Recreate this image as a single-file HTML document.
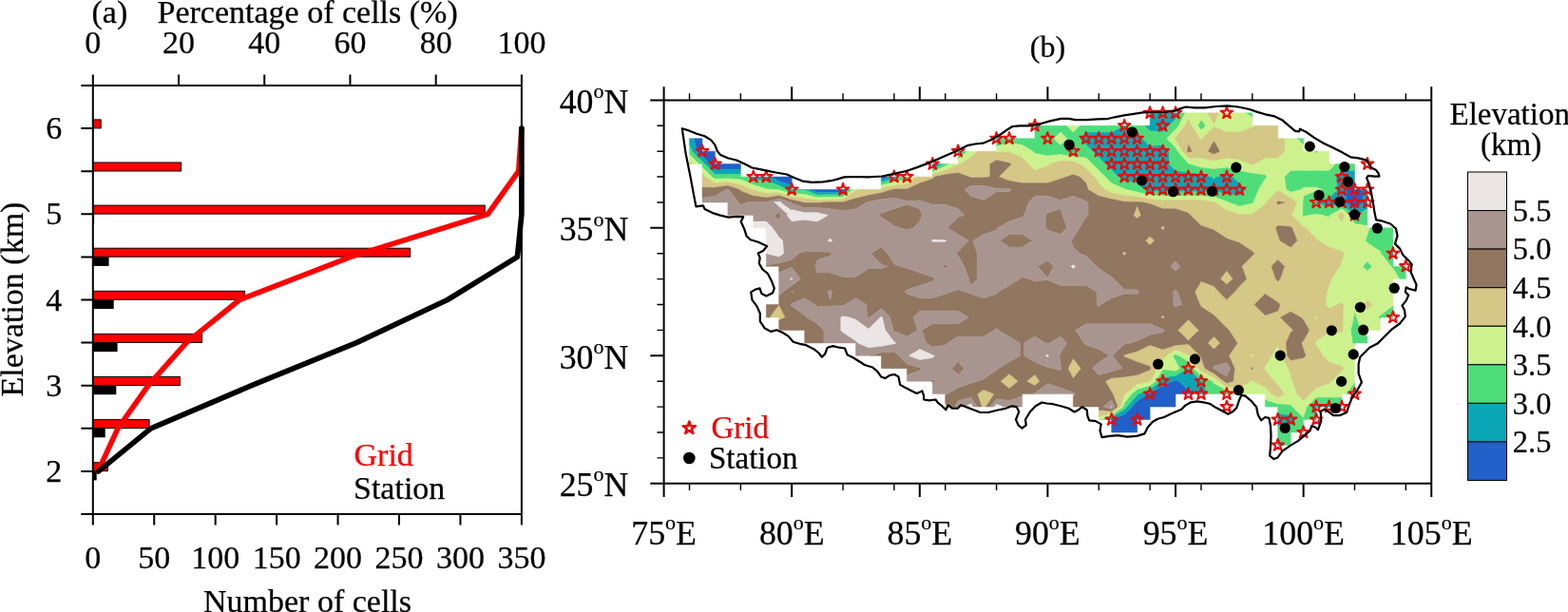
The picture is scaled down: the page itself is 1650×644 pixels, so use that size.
<!DOCTYPE html>
<html lang="en"><head><meta charset="utf-8"><title>Elevation distribution</title>
<style>html,body{margin:0;padding:0;background:#fff;overflow:hidden}svg{display:block}text{stroke-width:0.25px;stroke-linejoin:round}</style></head><body>
<svg width="1650" height="644" viewBox="0 0 1650 644">
<rect width="1650" height="644" fill="#fff"/>
<g id="panel-a">
<rect x="97.80" y="486.70" width="15.47" height="9" fill="#f00" stroke="#000" stroke-width="1"/>
<rect x="97.80" y="441.60" width="59.29" height="9" fill="#f00" stroke="#000" stroke-width="1"/>
<rect x="97.80" y="396.50" width="91.51" height="9" fill="#f00" stroke="#000" stroke-width="1"/>
<rect x="97.80" y="351.40" width="114.71" height="9" fill="#f00" stroke="#000" stroke-width="1"/>
<rect x="97.80" y="306.30" width="159.82" height="9" fill="#f00" stroke="#000" stroke-width="1"/>
<rect x="97.80" y="261.20" width="333.81" height="9" fill="#f00" stroke="#000" stroke-width="1"/>
<rect x="97.80" y="216.10" width="412.43" height="9" fill="#f00" stroke="#000" stroke-width="1"/>
<rect x="97.80" y="171.00" width="92.80" height="9" fill="#f00" stroke="#000" stroke-width="1"/>
<rect x="97.80" y="125.90" width="8.38" height="9" fill="#f00" stroke="#000" stroke-width="1"/>
<rect x="97.80" y="495.90" width="3.87" height="9.5" fill="#000"/>
<rect x="97.80" y="450.80" width="12.89" height="9.5" fill="#000"/>
<rect x="97.80" y="405.70" width="24.49" height="9.5" fill="#000"/>
<rect x="97.80" y="360.60" width="25.78" height="9.5" fill="#000"/>
<rect x="97.80" y="315.50" width="21.91" height="9.5" fill="#000"/>
<rect x="97.80" y="270.40" width="16.76" height="9.5" fill="#000"/>
<rect x="97.80" y="225.30" width="1.29" height="9.5" fill="#000"/>
<polyline points="103.2,495.9 124.0,450.8 156.0,405.7 196.1,360.6 252.1,315.5 368.9,270.4 513.3,225.3 545.7,180.2 548.9,135.1" fill="none" stroke="#f00" stroke-width="5.6" stroke-linejoin="round" stroke-linecap="round"/>
<polyline points="103.7,495.9 158.7,450.8 264.7,405.7 375.2,360.6 470.9,315.5 544.4,270.4 548.9,225.3 548.9,180.2 548.9,135.1" fill="none" stroke="#000" stroke-width="5.6" stroke-linejoin="round" stroke-linecap="round"/>
<path d="M85.30,90.0H548.9M85.30,541.0H548.9M97.8,78.5V552.5M548.9,78.5V552.5M85.30,541.00H97.8M85.30,495.90H97.8M85.30,450.80H97.8M85.30,405.70H97.8M85.30,360.60H97.8M85.30,315.50H97.8M85.30,270.40H97.8M85.30,225.30H97.8M85.30,180.20H97.8M85.30,135.10H97.8M85.30,90.00H97.8M97.80,78.5V90.0M188.02,78.5V90.0M278.24,78.5V90.0M368.46,78.5V90.0M458.68,78.5V90.0M548.90,78.5V90.0M97.80,541.0V552.5M162.24,541.0V552.5M226.69,541.0V552.5M291.13,541.0V552.5M355.57,541.0V552.5M420.01,541.0V552.5M484.46,541.0V552.5M548.90,541.0V552.5" fill="none" stroke="#000" stroke-width="2"/>
<g font-family='"Liberation Serif", serif' font-size="34" fill="#000">
<text transform="translate(97.80,55.50) scale(1.0,1)" stroke="#000" text-anchor="middle">0</text>
<text transform="translate(188.02,55.50) scale(1.0,1)" stroke="#000" text-anchor="middle">20</text>
<text transform="translate(278.24,55.50) scale(1.0,1)" stroke="#000" text-anchor="middle">40</text>
<text transform="translate(368.46,55.50) scale(1.0,1)" stroke="#000" text-anchor="middle">60</text>
<text transform="translate(458.68,55.50) scale(1.0,1)" stroke="#000" text-anchor="middle">80</text>
<text transform="translate(548.90,55.50) scale(1.0,1)" stroke="#000" text-anchor="middle">100</text>
<text transform="translate(97.80,597.50) scale(1.0,1)" stroke="#000" text-anchor="middle">0</text>
<text transform="translate(162.24,597.50) scale(1.0,1)" stroke="#000" text-anchor="middle">50</text>
<text transform="translate(226.69,597.50) scale(1.0,1)" stroke="#000" text-anchor="middle">100</text>
<text transform="translate(291.13,597.50) scale(1.0,1)" stroke="#000" text-anchor="middle">150</text>
<text transform="translate(355.57,597.50) scale(1.0,1)" stroke="#000" text-anchor="middle">200</text>
<text transform="translate(420.01,597.50) scale(1.0,1)" stroke="#000" text-anchor="middle">250</text>
<text transform="translate(484.46,597.50) scale(1.0,1)" stroke="#000" text-anchor="middle">300</text>
<text transform="translate(548.90,597.50) scale(1.0,1)" stroke="#000" text-anchor="middle">350</text>
<text transform="translate(65.20,506.90) scale(1.0,1)" stroke="#000" text-anchor="end">2</text>
<text transform="translate(65.20,416.70) scale(1.0,1)" stroke="#000" text-anchor="end">3</text>
<text transform="translate(65.20,326.50) scale(1.0,1)" stroke="#000" text-anchor="end">4</text>
<text transform="translate(65.20,236.30) scale(1.0,1)" stroke="#000" text-anchor="end">5</text>
<text transform="translate(65.20,146.10) scale(1.0,1)" stroke="#000" text-anchor="end">6</text>
<text transform="translate(96.50,24.00) scale(1.0,1)" stroke="#000">(a)</text>
<text transform="translate(165.50,24.00) scale(1.0,1)" stroke="#000">Percentage of cells (%)</text>
<text transform="translate(323.50,644.30) scale(1.0,1)" stroke="#000" text-anchor="middle">Number of cells</text>
<text transform="translate(24,315) rotate(-90) scale(1.0,1)" text-anchor="middle" stroke="#000">Elevation (km)</text>
<text transform="translate(372.50,489.50) scale(1.0,1)" fill="#f00" stroke="#f00">Grid</text>
<text transform="translate(372.00,524.50) scale(1.0,1)" stroke="#000">Station</text>
</g>
</g>
<g id="panel-b">
<g id="elev-fill">
<path d="M730.0,145.7L739.0,145.7L739.0,159.2L752.4,159.2L752.4,172.6L765.9,172.6L779.4,172.6L779.4,178.0L765.9,178.0L752.4,178.0L747.1,172.6L739.0,164.6L733.6,159.2ZM981.3,172.6L986.7,172.6L981.3,175.4ZM810.8,186.1L819.7,186.1L833.2,186.1L833.2,195.0L819.7,190.7ZM927.4,186.1L936.4,186.1L927.4,189.1ZM1416.5,199.5L1425.5,190.6L1425.5,199.5L1434.5,199.5L1434.5,213.0L1425.5,220.0L1416.5,213.0ZM853.0,199.5L860.1,199.5L873.6,199.5L887.1,199.5L890.5,199.5L887.1,202.2L873.6,202.2L860.1,202.3ZM1233.2,401.2L1237.0,400.2L1240.9,401.2L1250.5,410.8L1254.3,414.6L1250.5,414.6L1237.0,414.6L1237.0,428.1L1223.6,428.1L1210.1,428.1L1210.1,441.5L1196.7,441.5L1196.7,455.0L1183.2,455.0L1169.7,455.0L1169.7,441.5L1168.7,441.5L1169.7,441.1L1183.2,436.1L1191.3,428.1L1196.7,421.7L1208.0,414.6L1210.1,413.8L1223.6,405.7Z" fill="#2160c9" stroke="#2160c9" stroke-width="0.5" stroke-linejoin="round" fill-rule="evenodd"/>
<path d="M1210.1,118.8L1223.6,118.8L1237.0,118.8L1240.4,118.8L1237.0,125.6L1230.3,132.3L1223.6,139.0L1210.1,137.9L1204.5,132.3L1210.1,132.3ZM1089.0,132.3L1095.7,132.3L1089.0,139.0ZM1136.1,145.7L1142.8,139.0L1156.3,139.0L1169.7,139.0L1182.2,132.3L1183.2,132.3L1183.9,132.3L1196.7,140.1L1202.3,145.7L1210.1,153.6L1223.6,152.5L1230.3,159.2L1230.3,172.6L1237.0,179.3L1250.5,181.3L1264.0,182.7L1275.2,186.1L1277.4,188.3L1279.7,186.1L1290.9,182.7L1297.6,186.1L1304.3,192.8L1311.1,199.5L1304.3,206.2L1290.9,203.7L1277.4,202.1L1264.0,201.8L1250.5,201.8L1237.0,201.8L1223.6,201.8L1210.1,201.5L1203.4,199.5L1196.7,192.8L1183.2,190.3L1176.5,186.1L1169.7,179.3L1163.0,172.6L1156.3,165.9L1149.5,159.2L1142.8,152.5ZM725.5,145.7L730.0,145.7L733.6,159.2L739.0,164.6L747.1,172.6L752.4,178.0L765.9,178.0L779.4,178.0L779.4,183.4L765.9,183.4L752.4,183.4L741.7,172.6L739.0,169.9L728.2,159.2L725.5,152.5ZM1048.6,145.7L1055.3,145.7L1048.6,148.5ZM1127.1,159.2L1129.3,156.9L1131.6,159.2L1129.3,159.7ZM1008.2,159.2L1011.6,159.2L1008.2,162.0ZM986.7,172.6L992.0,172.6L981.3,178.1L981.3,175.4ZM1405.3,186.1L1412.0,179.3L1425.5,179.3L1425.5,186.1L1425.5,190.6L1416.5,199.5L1416.5,213.0L1425.5,220.0L1434.5,213.0L1434.5,199.5L1438.9,199.5L1438.9,213.0L1438.9,219.7L1427.7,226.4L1425.5,227.2L1425.0,226.4L1412.0,215.2L1398.6,217.8L1385.1,214.1L1383.8,213.0L1385.1,211.8L1398.6,208.2L1407.2,199.5ZM786.1,186.1L792.8,186.1L806.3,186.1L810.8,186.1L819.7,190.7L833.2,195.0L833.2,199.5L846.7,199.5L853.0,199.5L860.1,202.3L873.6,202.2L887.1,202.2L890.5,199.5L894.0,199.5L887.1,204.8L873.6,204.8L860.1,205.0L846.7,200.0L833.2,201.0L828.4,199.5L819.7,195.3L806.3,190.3L792.8,188.9ZM936.4,186.1L940.9,186.1L947.6,186.1L940.9,187.9L927.4,192.0L927.4,189.1ZM1461.7,266.7L1465.9,260.0L1465.9,266.7L1465.9,271.5ZM1478.0,280.2L1479.3,280.2L1479.3,282.4ZM1464.5,334.0L1465.9,332.8L1465.9,334.0ZM1249.7,387.7L1250.5,387.1L1251.0,387.7L1264.0,400.7L1265.1,401.2L1270.7,414.6L1264.0,414.6L1254.3,414.6L1250.5,410.8L1240.9,401.2L1237.0,400.2L1233.2,401.2L1223.6,405.7L1210.1,413.8L1208.0,414.6L1196.7,421.7L1191.3,428.1L1183.2,436.1L1169.7,441.1L1168.7,441.5L1163.7,441.5L1169.7,439.0L1183.2,430.8L1185.9,428.1L1196.7,415.3L1197.7,414.6L1210.1,409.7L1221.0,401.2L1223.6,397.0L1237.0,395.2ZM1288.6,414.6L1290.9,414.3L1291.7,414.6L1290.9,414.6ZM1424.6,414.6L1425.5,413.5L1425.5,414.6ZM1381.7,428.1L1385.1,424.7L1398.6,424.7L1412.0,424.7L1412.0,428.1L1398.6,428.1L1385.1,428.1L1385.1,441.5L1383.8,441.5ZM1344.7,441.5L1344.7,434.8L1358.2,436.7L1363.0,441.5L1358.2,448.2L1344.7,448.2ZM1369.4,455.0L1371.6,453.6L1371.6,455.0ZM1344.7,468.4L1344.7,461.7L1351.5,468.4Z" fill="#0ba6b5" stroke="#0ba6b5" stroke-width="0.5" stroke-linejoin="round" fill-rule="evenodd"/>
<path d="M1230.3,132.3L1237.0,125.6L1240.4,118.8L1247.1,118.8L1240.4,132.3L1237.0,136.5L1227.8,145.7L1237.0,155.0L1239.5,159.2L1250.5,172.0L1252.7,172.6L1264.0,176.0L1277.4,177.4L1290.9,176.0L1304.3,179.3L1317.8,181.9L1331.3,183.8L1333.5,186.1L1331.3,188.3L1324.5,199.5L1319.1,213.0L1317.8,214.1L1304.3,217.2L1293.1,213.0L1290.9,212.1L1277.4,207.3L1264.0,206.2L1250.5,206.2L1237.0,206.2L1223.6,206.2L1210.1,205.4L1196.7,202.1L1185.4,199.5L1183.2,198.7L1169.7,192.8L1163.0,186.1L1156.3,179.3L1149.5,172.6L1142.8,165.9L1129.3,164.9L1115.9,162.5L1102.4,164.0L1089.0,161.4L1086.7,159.2L1075.5,152.5L1062.0,150.5L1048.6,154.1L1048.6,148.5L1055.3,145.7L1062.0,145.7L1075.5,145.7L1089.0,145.7L1089.0,139.0L1095.7,132.3L1102.4,132.3L1115.9,132.3L1122.6,132.3L1129.3,139.0L1136.1,132.3L1142.8,132.3L1156.3,132.3L1169.7,132.3L1182.2,132.3L1169.7,139.0L1156.3,139.0L1142.8,139.0L1136.1,145.7L1142.8,152.5L1149.5,159.2L1156.3,165.9L1163.0,172.6L1169.7,179.3L1176.5,186.1L1183.2,190.3L1196.7,192.8L1203.4,199.5L1210.1,201.5L1223.6,201.8L1237.0,201.8L1250.5,201.8L1264.0,201.8L1277.4,202.1L1290.9,203.7L1304.3,206.2L1311.1,199.5L1304.3,192.8L1297.6,186.1L1290.9,182.7L1279.7,186.1L1277.4,188.3L1275.2,186.1L1264.0,182.7L1250.5,181.3L1237.0,179.3L1230.3,172.6L1230.3,159.2L1223.6,152.5L1210.1,153.6L1202.3,145.7L1196.7,140.1L1183.9,132.3L1196.7,132.3L1204.5,132.3L1210.1,137.9L1223.6,139.0ZM1115.9,139.0L1109.2,145.7L1115.9,152.5L1122.6,145.7ZM1129.3,156.9L1127.1,159.2L1129.3,159.7L1131.6,159.2ZM1260.6,132.3L1264.0,125.6L1268.8,132.3L1264.0,137.1ZM1311.1,118.8L1317.8,118.8L1317.8,123.6ZM725.5,159.2L725.5,152.5L728.2,159.2L739.0,169.9L741.7,172.6L752.4,183.4L765.9,183.4L779.4,183.4L779.4,186.1L786.1,186.1L792.8,188.9L806.3,190.3L819.7,195.3L828.4,199.5L833.2,201.0L846.7,200.0L860.1,205.0L873.6,204.8L887.1,204.8L894.0,199.5L897.4,199.5L887.1,207.4L873.6,207.4L860.1,207.7L846.7,204.4L833.2,204.1L819.7,199.8L813.0,199.5L806.3,198.7L792.8,194.5L779.4,188.9L765.9,187.9L752.4,188.3L749.1,186.1L739.0,176.0L739.0,172.6L735.6,172.6L725.5,162.5ZM1364.9,145.7L1371.6,145.7L1371.6,152.5ZM1011.6,159.2L1018.3,159.2L1008.2,167.6L1008.2,162.0ZM1382.9,159.2L1385.1,159.2L1387.3,159.2L1385.1,161.4ZM992.0,172.6L994.7,172.6L999.5,172.6L994.7,174.9L981.3,180.9L981.3,178.1ZM1351.5,186.1L1358.2,179.3L1371.6,179.3L1385.1,179.3L1398.6,179.3L1405.3,172.6L1412.0,172.6L1425.5,172.6L1425.5,179.3L1412.0,179.3L1405.3,186.1L1407.2,199.5L1398.6,208.2L1385.1,211.8L1383.8,213.0L1385.1,214.1L1398.6,217.8L1412.0,215.2L1425.0,226.4L1425.5,227.2L1427.7,226.4L1438.9,219.7L1438.9,226.4L1438.9,237.6L1425.5,235.6L1419.8,226.4L1412.0,219.7L1399.4,226.4L1398.6,228.6L1391.8,226.4L1385.1,225.3L1378.4,226.4L1371.6,227.5L1370.5,226.4L1371.0,213.0L1371.6,206.2L1385.1,200.6L1391.8,199.5L1385.1,197.3L1371.6,197.3L1369.4,199.5L1358.2,202.3L1353.4,199.5ZM927.4,195.0L927.4,192.0L940.9,187.9L947.6,186.1L954.4,186.1L957.7,186.1L954.4,188.7L940.9,191.7ZM1436.7,253.3L1438.9,246.6L1441.2,239.8L1452.4,239.8L1465.9,239.8L1465.9,253.3L1465.9,260.0L1461.7,266.7L1465.9,271.5L1465.9,280.2L1478.0,280.2L1479.3,282.4L1479.3,293.6L1472.6,293.6L1465.9,282.4L1463.6,280.2L1453.2,266.7L1452.4,264.5L1438.9,255.5ZM1433.9,280.2L1438.9,275.1L1444.0,280.2L1438.9,285.2ZM1424.4,334.0L1425.5,327.2L1427.7,334.0L1432.2,347.4L1438.9,354.1L1438.9,360.9L1425.5,360.9L1425.5,363.1L1423.2,360.9L1421.3,347.4ZM1450.2,334.0L1452.4,331.7L1465.9,321.6L1465.9,332.8L1464.5,334.0L1452.4,334.0L1452.4,336.2ZM1234.2,374.3L1237.0,372.4L1241.2,374.3L1250.5,380.4L1256.2,387.7L1264.0,395.5L1276.3,401.2L1277.4,403.4L1290.9,410.5L1300.1,414.6L1291.7,414.6L1290.9,414.3L1288.6,414.6L1277.4,414.6L1270.7,414.6L1265.1,401.2L1264.0,400.7L1251.0,387.7L1250.5,387.1L1249.7,387.7L1237.0,395.2L1223.6,397.0L1221.0,401.2L1210.1,409.7L1197.7,414.6L1196.7,415.3L1185.9,428.1L1183.2,430.8L1169.7,439.0L1163.7,441.5L1158.8,441.5L1169.7,436.8L1181.7,428.1L1183.2,423.9L1190.6,414.6L1196.7,409.6L1210.1,405.7L1215.8,401.2L1223.6,388.6L1237.0,390.2L1241.2,387.7L1237.0,380.3ZM1416.2,414.6L1425.5,402.3L1425.5,413.5L1424.6,414.6ZM1331.3,428.1L1331.3,420.6L1344.7,424.7L1358.2,425.8L1360.4,428.1L1371.6,439.3L1375.0,428.1L1385.1,418.0L1398.6,418.0L1412.0,418.0L1412.0,424.7L1398.6,424.7L1385.1,424.7L1381.7,428.1L1383.8,441.5L1371.6,441.5L1371.6,453.6L1369.4,455.0L1358.2,455.0L1358.2,468.4L1351.5,468.4L1344.7,461.7L1344.7,455.0L1344.7,448.2L1358.2,448.2L1363.0,441.5L1358.2,436.7L1344.7,434.8L1344.7,428.1Z" fill="#4fdd7a" stroke="#4fdd7a" stroke-width="0.5" stroke-linejoin="round" fill-rule="evenodd"/>
<path d="M1247.1,118.8L1250.5,118.8L1264.0,118.8L1270.7,118.8L1277.4,130.0L1282.6,118.8L1290.9,118.8L1304.3,118.8L1311.1,118.8L1317.8,123.6L1317.8,132.3L1320.0,132.3L1317.8,134.5L1304.3,139.0L1290.9,139.0L1277.4,133.6L1265.3,145.7L1264.0,148.0L1262.5,145.7L1253.9,132.3L1250.5,125.6L1247.1,132.3L1237.0,144.9L1236.2,145.7L1237.0,146.6L1244.5,159.2L1250.5,166.2L1264.0,165.9L1277.4,169.1L1290.9,165.9L1304.3,167.8L1315.6,172.6L1317.8,173.5L1320.0,172.6L1331.3,165.9L1344.7,165.9L1351.5,159.2L1351.5,145.7L1358.2,145.7L1364.9,145.7L1371.6,152.5L1371.6,159.2L1382.9,159.2L1385.1,161.4L1387.3,159.2L1398.6,159.2L1398.6,172.6L1405.3,172.6L1398.6,179.3L1385.1,179.3L1371.6,179.3L1358.2,179.3L1351.5,186.1L1353.4,199.5L1358.2,202.3L1369.4,199.5L1371.6,197.3L1385.1,197.3L1391.8,199.5L1385.1,200.6L1371.6,206.2L1371.0,213.0L1370.5,226.4L1371.6,227.5L1378.4,226.4L1385.1,225.3L1391.8,226.4L1398.6,228.6L1399.4,226.4L1412.0,219.7L1419.8,226.4L1425.5,235.6L1438.9,237.6L1438.9,239.8L1441.2,239.8L1438.9,246.6L1436.7,253.3L1438.9,255.5L1452.4,264.5L1453.2,266.7L1463.6,280.2L1465.9,282.4L1472.6,293.6L1465.9,293.6L1465.9,307.1L1465.9,320.5L1465.9,321.6L1452.4,331.7L1450.2,334.0L1452.4,336.2L1452.4,347.4L1438.9,347.4L1438.9,354.1L1432.2,347.4L1427.7,334.0L1425.5,327.2L1424.4,334.0L1421.3,347.4L1423.2,360.9L1425.5,363.1L1425.5,374.3L1425.5,387.7L1425.5,401.2L1425.5,402.3L1416.2,414.6L1412.0,414.6L1412.0,418.0L1398.6,418.0L1385.1,418.0L1375.0,428.1L1371.6,439.3L1360.4,428.1L1358.2,425.8L1344.7,424.7L1331.3,420.6L1331.3,414.6L1317.8,414.6L1304.3,414.6L1300.1,414.6L1290.9,410.5L1277.4,403.4L1276.3,401.2L1264.0,395.5L1256.2,387.7L1250.5,380.4L1241.2,374.3L1237.0,372.4L1234.2,374.3L1237.0,380.3L1241.2,387.7L1237.0,390.2L1223.6,388.6L1215.8,401.2L1210.1,405.7L1196.7,409.6L1190.6,414.6L1183.2,423.9L1181.7,428.1L1169.7,436.8L1158.8,441.5L1156.3,441.5L1156.3,438.2L1169.7,434.7L1178.8,428.1L1183.2,415.5L1183.9,414.6L1196.7,404.0L1210.1,401.6L1210.6,401.2L1217.5,387.7L1223.6,379.1L1227.1,374.3L1237.0,367.8L1250.5,373.2L1251.6,374.3L1261.4,387.7L1264.0,390.3L1277.4,397.2L1282.5,401.2L1290.9,406.8L1304.3,407.9L1315.6,401.2L1317.8,400.1L1320.0,401.2L1331.3,407.3L1338.6,414.6L1344.7,418.0L1351.5,414.6L1344.7,405.0L1340.9,401.2L1331.3,390.0L1330.1,387.7L1331.3,385.5L1338.0,374.3L1344.7,363.1L1348.1,374.3L1355.9,387.7L1358.2,394.5L1360.4,401.2L1364.9,414.6L1371.6,421.4L1378.4,414.6L1385.1,407.9L1398.6,403.4L1400.8,401.2L1412.0,390.0L1414.3,387.7L1412.0,385.5L1398.6,381.0L1391.8,374.3L1385.1,363.1L1383.8,360.9L1385.1,358.6L1398.6,349.7L1412.0,349.7L1412.9,347.4L1413.1,334.0L1413.4,320.5L1412.0,318.3L1407.5,320.5L1398.6,324.4L1394.7,320.5L1396.3,307.1L1398.6,300.4L1400.8,293.6L1409.8,280.2L1412.0,273.5L1414.3,266.7L1412.0,264.5L1398.6,260.0L1387.3,253.3L1385.1,251.1L1373.9,239.8L1371.6,238.7L1359.3,226.4L1364.2,213.0L1358.2,207.9L1344.7,200.6L1332.4,213.0L1331.3,215.2L1317.8,225.3L1304.3,225.6L1290.9,221.6L1278.8,213.0L1277.4,212.4L1264.0,210.7L1250.5,210.7L1237.0,210.7L1223.6,210.7L1210.1,209.4L1196.7,207.3L1183.2,205.6L1169.7,202.9L1163.0,199.5L1156.3,192.8L1151.5,186.1L1142.8,177.4L1136.1,172.6L1129.3,170.0L1115.9,169.3L1104.7,172.6L1102.4,174.9L1089.0,179.3L1082.2,172.6L1075.5,165.9L1062.0,160.3L1048.6,160.0L1046.3,159.2L1048.6,159.2L1048.6,154.1L1062.0,150.5L1075.5,152.5L1086.7,159.2L1089.0,161.4L1102.4,164.0L1115.9,162.5L1129.3,164.9L1142.8,165.9L1149.5,172.6L1156.3,179.3L1163.0,186.1L1169.7,192.8L1183.2,198.7L1185.4,199.5L1196.7,202.1L1210.1,205.4L1223.6,206.2L1237.0,206.2L1250.5,206.2L1264.0,206.2L1277.4,207.3L1290.9,212.1L1293.1,213.0L1304.3,217.2L1317.8,214.1L1319.1,213.0L1324.5,199.5L1331.3,188.3L1333.5,186.1L1331.3,183.8L1317.8,181.9L1304.3,179.3L1290.9,176.0L1277.4,177.4L1264.0,176.0L1252.7,172.6L1250.5,172.0L1239.5,159.2L1237.0,155.0L1227.8,145.7L1237.0,136.5L1240.4,132.3ZM1264.0,125.6L1260.6,132.3L1264.0,137.1L1268.8,132.3ZM1412.0,224.2L1407.8,226.4L1412.0,233.1L1414.6,226.4ZM1438.9,275.1L1433.9,280.2L1438.9,285.2L1444.0,280.2ZM1438.9,315.5L1435.6,320.5L1438.9,325.6L1444.0,320.5ZM1109.2,145.7L1115.9,139.0L1122.6,145.7L1115.9,152.5ZM1122.6,132.3L1129.3,132.3L1136.1,132.3L1129.3,139.0ZM725.5,169.3L725.5,162.5L735.6,172.6L728.9,172.6ZM1018.3,159.2L1021.7,159.2L1028.4,159.2L1021.7,165.9L1010.4,172.6L1008.2,173.5L994.7,179.3L981.3,183.6L981.3,180.9L994.7,174.9L999.5,172.6L1008.2,172.6L1008.2,167.6ZM739.0,182.7L739.0,176.0L749.1,186.1L752.4,188.3L765.9,187.9L779.4,188.9L792.8,194.5L806.3,198.7L813.0,199.5L819.7,199.8L833.2,204.1L846.7,204.4L860.1,207.7L873.6,207.4L887.1,207.4L897.4,199.5L900.5,199.5L907.2,199.5L900.5,200.4L887.1,210.1L873.6,210.1L860.1,210.5L846.7,208.9L833.2,207.2L819.7,202.9L806.3,203.5L792.8,200.1L791.5,199.5L779.4,194.5L765.9,191.7L752.4,192.8L742.3,186.1ZM927.4,198.0L927.4,195.0L940.9,191.7L954.4,188.7L957.7,186.1L964.5,186.1L954.4,193.8L940.9,195.4ZM1383.8,334.0L1385.1,331.7L1387.3,334.0L1385.1,336.2ZM1315.6,374.3L1317.8,372.1L1320.0,374.3L1317.8,375.4ZM1303.9,387.7L1304.3,385.5L1305.5,387.7L1304.3,390.0Z" fill="#ccf18d" stroke="#ccf18d" stroke-width="0.5" stroke-linejoin="round" fill-rule="evenodd"/>
<path d="M1247.1,132.3L1250.5,125.6L1253.9,132.3L1262.5,145.7L1264.0,148.0L1265.3,145.7L1277.4,133.6L1290.9,139.0L1304.3,139.0L1317.8,134.5L1320.0,132.3L1331.3,132.3L1344.7,132.3L1344.7,145.7L1351.5,145.7L1351.5,159.2L1344.7,165.9L1331.3,165.9L1320.0,172.6L1317.8,173.5L1315.6,172.6L1304.3,167.8L1290.9,165.9L1277.4,169.1L1264.0,165.9L1250.5,166.2L1244.5,159.2L1237.0,146.6L1236.2,145.7L1237.0,144.9ZM1250.5,152.5L1249.5,159.2L1250.5,160.3L1254.3,159.2ZM1277.4,148.4L1271.4,159.2L1277.4,162.0L1283.4,159.2ZM1270.7,118.8L1277.4,118.8L1282.6,118.8L1277.4,130.0ZM725.5,172.6L725.5,169.3L728.9,172.6ZM1010.4,172.6L1021.7,165.9L1028.4,159.2L1035.1,159.2L1046.3,159.2L1048.6,160.0L1062.0,160.3L1075.5,165.9L1082.2,172.6L1089.0,179.3L1102.4,174.9L1104.7,172.6L1115.9,169.3L1129.3,170.0L1136.1,172.6L1142.8,177.4L1151.5,186.1L1156.3,192.8L1163.0,199.5L1169.7,202.9L1183.2,205.6L1196.7,207.3L1210.1,209.4L1223.6,210.7L1237.0,210.7L1250.5,210.7L1264.0,210.7L1277.4,212.4L1278.8,213.0L1290.9,221.6L1304.3,225.6L1317.8,225.3L1331.3,215.2L1332.4,213.0L1344.7,200.6L1358.2,207.9L1364.2,213.0L1359.3,226.4L1371.6,238.7L1373.9,239.8L1385.1,251.1L1387.3,253.3L1398.6,260.0L1412.0,264.5L1414.3,266.7L1412.0,273.5L1409.8,280.2L1400.8,293.6L1398.6,300.4L1396.3,307.1L1394.7,320.5L1398.6,324.4L1407.5,320.5L1412.0,318.3L1413.4,320.5L1413.1,334.0L1412.9,347.4L1412.0,349.7L1398.6,349.7L1385.1,358.6L1383.8,360.9L1385.1,363.1L1391.8,374.3L1398.6,381.0L1412.0,385.5L1414.3,387.7L1412.0,390.0L1400.8,401.2L1398.6,403.4L1385.1,407.9L1378.4,414.6L1371.6,421.4L1364.9,414.6L1360.4,401.2L1358.2,394.5L1355.9,387.7L1348.1,374.3L1344.7,363.1L1338.0,374.3L1331.3,385.5L1330.1,387.7L1331.3,390.0L1340.9,401.2L1344.7,405.0L1351.5,414.6L1344.7,418.0L1338.6,414.6L1331.3,407.3L1320.0,401.2L1317.8,400.1L1315.6,401.2L1304.3,407.9L1290.9,406.8L1282.5,401.2L1277.4,397.2L1264.0,390.3L1261.4,387.7L1251.6,374.3L1250.5,373.2L1237.0,367.8L1227.1,374.3L1223.6,379.1L1217.5,387.7L1210.6,401.2L1210.1,401.6L1196.7,404.0L1183.9,414.6L1183.2,415.5L1178.8,428.1L1169.7,434.7L1156.3,438.2L1156.3,431.4L1169.7,432.6L1175.9,428.1L1171.1,414.6L1169.7,412.4L1163.0,401.2L1169.7,397.8L1183.2,396.4L1196.7,394.5L1210.1,389.1L1210.8,387.7L1210.1,385.5L1196.7,381.0L1183.2,375.6L1182.1,374.3L1183.2,373.2L1196.7,369.5L1210.1,363.1L1223.6,367.6L1237.0,363.2L1250.5,362.0L1262.8,374.3L1264.0,376.5L1268.2,387.7L1277.4,392.7L1288.1,401.2L1290.9,403.1L1297.6,401.2L1299.2,387.7L1293.1,374.3L1302.1,360.9L1293.1,347.4L1290.9,345.2L1279.7,334.0L1277.4,331.7L1264.0,322.8L1262.6,320.5L1257.2,307.1L1264.0,295.9L1277.4,301.0L1282.6,307.1L1290.9,315.3L1299.2,307.1L1304.3,301.0L1311.7,293.6L1306.6,280.2L1317.8,269.0L1320.0,266.7L1317.8,264.5L1304.3,255.5L1297.6,253.3L1290.9,251.1L1277.4,242.1L1270.7,239.8L1264.0,237.6L1252.7,226.4L1250.5,224.2L1237.0,219.7L1223.6,219.7L1210.1,214.6L1203.4,213.0L1196.7,212.4L1183.2,212.3L1169.7,209.6L1156.3,206.2L1145.1,199.5L1142.8,192.8L1136.1,186.1L1129.3,183.8L1122.6,186.1L1115.9,188.3L1102.4,192.8L1089.0,192.8L1075.5,192.8L1062.0,190.3L1050.8,186.1L1062.0,174.9L1064.3,172.6L1062.0,171.5L1048.6,168.4L1041.9,172.6L1041.9,186.1L1035.1,186.9L1021.7,186.9L1019.4,186.1L1008.2,181.9L994.7,183.8L983.5,186.1L981.3,188.3L967.8,192.8L954.4,199.0L940.9,199.1L938.7,199.5L927.4,202.9L914.0,205.6L900.5,208.8L887.1,212.7L873.6,212.7L866.9,213.0L860.1,213.5L846.7,213.5L845.3,213.0L833.2,210.2L819.7,206.0L806.3,208.0L792.8,206.2L779.4,200.9L778.2,199.5L765.9,195.4L752.4,197.3L739.0,197.3L739.0,186.1L739.0,182.7L742.3,186.1L752.4,192.8L765.9,191.7L779.4,194.5L791.5,199.5L792.8,200.1L806.3,203.5L819.7,202.9L833.2,207.2L846.7,208.9L860.1,210.5L873.6,210.1L887.1,210.1L900.5,200.4L907.2,199.5L914.0,199.5L927.4,199.5L927.4,198.0L940.9,195.4L954.4,193.8L964.5,186.1L967.8,186.1L981.3,186.1L981.3,183.6L994.7,179.3L1008.2,173.5ZM1331.3,309.3L1320.0,320.5L1331.3,331.7L1344.7,327.2L1347.0,320.5L1344.7,318.3ZM1344.7,211.8L1343.6,213.0L1344.7,215.2L1351.5,213.0ZM1385.1,331.7L1383.8,334.0L1385.1,336.2L1387.3,334.0ZM1304.3,385.5L1303.9,387.7L1304.3,390.0L1305.5,387.7ZM1317.8,372.1L1315.6,374.3L1317.8,375.4L1320.0,374.3ZM1344.7,237.6L1342.5,239.8L1344.7,246.6L1347.0,253.3L1358.2,260.0L1364.9,253.3L1359.5,239.8L1358.2,238.5ZM1317.8,386.6L1316.7,387.7L1317.8,388.9L1318.9,387.7ZM1344.7,273.5L1338.0,280.2L1342.5,293.6L1344.7,295.9L1347.0,293.6L1351.5,280.2ZM1358.2,328.0L1347.4,334.0L1358.2,344.7L1360.9,347.4L1358.2,349.7L1353.4,360.9L1354.8,374.3L1358.2,379.1L1371.6,376.5L1373.9,374.3L1371.6,367.6L1369.4,360.9L1371.6,358.2L1377.6,347.4L1371.6,336.7L1368.9,334.0ZM1192.6,226.4L1196.7,216.3L1200.7,226.4L1196.7,230.1ZM1407.8,226.4L1412.0,224.2L1414.6,226.4L1412.0,233.1ZM1221.3,239.8L1223.6,237.6L1225.8,239.8L1223.6,242.1ZM1205.3,253.3L1210.1,248.5L1214.9,253.3L1210.1,258.1ZM1180.9,266.7L1183.2,264.5L1185.4,266.7L1183.2,269.0ZM1284.1,293.6L1290.9,284.7L1297.6,293.6L1290.9,299.4ZM832.4,307.1L833.2,306.5L835.5,307.1L833.2,308.2ZM819.7,320.5L819.7,320.5L819.7,320.5L826.5,334.0L819.7,337.1L819.7,334.0L809.7,334.0L819.7,320.5ZM1435.6,320.5L1438.9,315.5L1444.0,320.5L1438.9,325.6ZM1221.3,334.0L1223.6,331.7L1225.8,334.0L1223.6,335.1ZM1239.3,347.4L1250.5,336.2L1261.7,347.4L1250.5,358.6ZM1270.7,360.9L1277.4,354.1L1284.1,360.9L1277.4,367.6ZM1123.7,387.7L1129.3,377.0L1137.6,387.7L1129.3,398.5ZM1052.6,401.2L1062.0,393.3L1071.5,401.2L1062.0,409.0ZM1080.0,401.2L1089.0,393.9L1094.3,401.2L1089.0,405.9ZM1028.4,414.6L1035.1,409.8L1046.3,414.6L1037.4,428.1L1035.1,428.1L1032.9,428.1ZM994.7,428.1L994.7,423.9L998.1,428.1Z" fill="#d5c785" stroke="#d5c785" stroke-width="0.5" stroke-linejoin="round" fill-rule="evenodd"/>
<path d="M1249.5,159.2L1250.5,152.5L1254.3,159.2L1250.5,160.3ZM1271.4,159.2L1277.4,148.4L1283.4,159.2L1277.4,162.0ZM1041.9,172.6L1048.6,168.4L1062.0,171.5L1064.3,172.6L1062.0,174.9L1050.8,186.1L1062.0,190.3L1075.5,192.8L1089.0,192.8L1102.4,192.8L1115.9,188.3L1122.6,186.1L1129.3,183.8L1136.1,186.1L1142.8,192.8L1145.1,199.5L1156.3,206.2L1169.7,209.6L1183.2,212.3L1196.7,212.4L1203.4,213.0L1210.1,214.6L1223.6,219.7L1237.0,219.7L1250.5,224.2L1252.7,226.4L1264.0,237.6L1270.7,239.8L1277.4,242.1L1290.9,251.1L1297.6,253.3L1304.3,255.5L1317.8,264.5L1320.0,266.7L1317.8,269.0L1306.6,280.2L1311.7,293.6L1304.3,301.0L1299.2,307.1L1290.9,315.3L1282.6,307.1L1277.4,301.0L1264.0,295.9L1257.2,307.1L1262.6,320.5L1264.0,322.8L1277.4,331.7L1279.7,334.0L1290.9,345.2L1293.1,347.4L1302.1,360.9L1293.1,374.3L1299.2,387.7L1297.6,401.2L1290.9,403.1L1288.1,401.2L1277.4,392.7L1268.2,387.7L1264.0,376.5L1262.8,374.3L1250.5,362.0L1237.0,363.2L1223.6,367.6L1210.1,363.1L1196.7,369.5L1183.2,373.2L1182.1,374.3L1183.2,375.6L1196.7,381.0L1210.1,385.5L1210.8,387.7L1210.1,389.1L1196.7,394.5L1183.2,396.4L1169.7,397.8L1163.0,401.2L1169.7,412.4L1171.1,414.6L1175.9,428.1L1169.7,432.6L1156.3,431.4L1156.3,428.1L1142.8,428.1L1129.3,428.1L1129.3,416.9L1131.6,414.6L1129.3,413.1L1115.9,407.9L1102.4,403.4L1089.0,413.8L1082.2,414.6L1075.5,414.6L1075.5,416.9L1062.0,421.4L1048.6,419.7L1041.9,428.1L1037.4,428.1L1046.3,414.6L1035.1,409.8L1028.4,414.6L1032.9,428.1L1028.4,428.1L1021.7,418.0L1008.2,421.4L1004.8,428.1L998.1,428.1L994.7,423.9L994.7,415.5L997.0,414.6L1008.2,407.9L1021.7,403.4L1028.4,401.2L1035.1,398.9L1048.6,389.4L1050.8,387.7L1062.0,381.0L1073.3,374.3L1073.3,360.9L1062.0,354.1L1050.8,347.4L1048.6,345.2L1046.3,347.4L1035.1,354.1L1021.7,354.1L1008.2,354.1L997.0,360.9L994.7,363.1L981.3,365.1L974.5,360.9L970.1,347.4L981.3,340.7L994.7,340.7L1008.2,340.7L1019.4,334.0L1008.2,327.2L994.7,327.2L981.3,327.2L967.8,327.2L961.1,334.0L965.6,347.4L954.4,354.1L940.9,348.5L940.1,347.4L936.7,334.0L927.4,324.7L915.1,334.0L914.0,335.1L912.6,334.0L911.7,320.5L900.5,313.8L889.3,320.5L887.1,321.6L873.6,322.0L860.1,322.8L857.9,320.5L846.7,313.8L833.2,319.4L832.0,320.5L833.2,322.2L846.7,331.7L848.9,334.0L860.1,340.7L866.9,347.4L866.9,360.9L860.1,360.9L846.7,360.9L846.7,347.4L833.2,347.4L819.7,347.4L819.7,337.1L826.5,334.0L819.7,320.5L819.7,320.5L819.7,311.6L824.0,307.1L833.2,300.4L842.5,293.6L833.2,281.3L819.7,286.9L819.7,280.2L806.3,280.2L806.3,279.0L819.7,276.8L833.2,273.5L839.9,266.7L846.7,264.5L860.1,264.5L873.6,265.6L875.8,266.7L873.6,269.0L860.1,273.5L857.9,280.2L860.1,286.9L873.6,286.9L887.1,291.4L900.5,291.4L914.0,282.4L927.4,282.4L934.2,280.2L927.4,277.9L916.2,266.7L927.4,260.0L934.2,266.7L940.9,277.9L947.6,280.2L954.4,282.4L967.8,286.9L981.3,291.4L983.5,293.6L981.3,295.9L967.8,300.4L954.4,304.8L952.1,307.1L954.4,309.3L967.8,313.8L981.3,313.8L994.7,309.3L1001.5,307.1L1008.2,304.8L1014.9,307.1L1021.7,309.3L1035.1,313.8L1048.6,309.3L1050.8,307.1L1062.0,300.4L1073.3,293.6L1075.5,291.4L1082.2,293.6L1089.0,295.9L1102.4,294.6L1115.9,300.4L1129.3,300.4L1142.8,300.4L1154.0,307.1L1154.0,320.5L1156.3,322.8L1158.5,320.5L1169.7,313.8L1183.2,309.3L1196.7,309.3L1198.9,307.1L1196.7,304.8L1183.2,304.8L1172.0,293.6L1169.7,291.4L1156.3,282.4L1154.0,280.2L1142.8,269.0L1136.1,266.7L1129.3,260.0L1127.1,253.3L1129.3,251.1L1136.1,239.8L1142.8,228.6L1145.1,226.4L1145.1,213.0L1142.8,211.6L1129.3,206.2L1115.9,210.7L1102.4,206.2L1089.0,206.2L1082.2,213.0L1077.7,226.4L1075.5,228.6L1062.0,233.1L1049.6,239.8L1048.6,242.1L1035.1,246.6L1023.9,253.3L1028.4,266.7L1028.4,280.2L1028.4,293.6L1021.7,300.4L1019.4,293.6L1014.9,280.2L1008.2,269.0L1006.0,266.7L1008.2,264.5L1019.4,253.3L1008.2,246.6L997.0,239.8L1008.2,228.6L1014.9,226.4L1008.2,219.7L994.7,215.2L981.3,215.2L974.5,213.0L967.8,210.7L954.4,211.6L940.9,208.2L927.4,209.6L914.0,212.3L911.7,213.0L900.5,219.7L887.1,221.6L873.6,219.7L860.1,218.6L846.7,218.6L833.2,213.7L832.2,213.0L819.7,209.1L806.3,212.5L792.8,212.3L786.1,213.0L779.4,215.2L777.1,213.0L767.0,199.5L765.9,199.1L763.7,199.5L752.4,206.2L739.0,208.2L739.0,199.5L739.0,197.3L752.4,197.3L765.9,195.4L778.2,199.5L779.4,200.9L792.8,206.2L806.3,208.0L819.7,206.0L833.2,210.2L845.3,213.0L846.7,213.5L860.1,213.5L866.9,213.0L873.6,212.7L887.1,212.7L900.5,208.8L914.0,205.6L927.4,202.9L938.7,199.5L940.9,199.1L954.4,199.0L967.8,192.8L981.3,188.3L983.5,186.1L994.7,183.8L1008.2,181.9L1019.4,186.1L1021.7,186.9L1035.1,186.9L1041.9,186.1ZM1183.2,264.5L1180.9,266.7L1183.2,269.0L1185.4,266.7ZM1196.7,216.3L1192.6,226.4L1196.7,230.1L1200.7,226.4ZM1210.1,248.5L1205.3,253.3L1210.1,258.1L1214.9,253.3ZM1223.6,237.6L1221.3,239.8L1223.6,242.1L1225.8,239.8ZM1237.0,275.1L1232.0,280.2L1237.0,285.2L1242.1,280.2ZM1250.5,336.2L1239.3,347.4L1250.5,358.6L1261.7,347.4ZM1290.9,284.7L1284.1,293.6L1290.9,299.4L1297.6,293.6ZM1277.4,354.1L1270.7,360.9L1277.4,367.6L1284.1,360.9ZM1169.7,420.7L1160.5,428.1L1169.7,430.4L1172.9,428.1ZM1062.0,393.3L1052.6,401.2L1062.0,409.0L1071.5,401.2ZM833.2,306.5L832.4,307.1L833.2,308.2L835.5,307.1ZM873.6,304.8L871.3,307.1L873.6,315.5L875.8,307.1ZM1089.0,354.1L1077.7,360.9L1077.7,374.3L1089.0,381.0L1102.4,386.6L1109.2,387.7L1115.9,390.0L1116.6,387.7L1115.9,381.0L1114.8,374.3L1115.9,372.1L1122.6,360.9L1115.9,354.1L1104.7,360.9L1102.4,362.0L1100.2,360.9ZM1129.3,377.0L1123.7,387.7L1129.3,398.5L1137.6,387.7ZM1142.8,340.7L1131.6,347.4L1140.6,360.9L1142.8,363.1L1156.3,367.6L1167.5,374.3L1156.3,381.0L1149.5,387.7L1156.3,394.5L1169.7,391.1L1180.9,387.7L1170.9,374.3L1183.2,362.0L1189.9,360.9L1196.7,358.6L1210.1,352.2L1223.6,349.7L1224.9,347.4L1223.6,346.3L1210.1,340.7L1196.7,340.7L1183.2,340.7L1169.7,340.7L1156.3,340.7ZM1021.7,195.3L1014.9,199.5L1021.7,206.2L1035.1,210.7L1048.6,201.8L1062.0,201.8L1064.3,199.5L1062.0,198.7L1048.6,198.2L1035.1,195.3ZM1223.6,331.7L1221.3,334.0L1223.6,335.1L1225.8,334.0ZM1237.0,304.8L1234.8,307.1L1234.8,320.5L1237.0,322.8L1243.8,320.5L1239.3,307.1ZM1277.4,385.5L1276.6,387.7L1277.4,388.2L1290.9,396.0L1294.6,387.7L1290.9,381.4ZM1089.0,393.9L1080.0,401.2L1089.0,405.9L1094.3,401.2ZM1343.6,213.0L1344.7,211.8L1351.5,213.0L1344.7,215.2ZM814.7,226.4L819.7,223.8L821.7,226.4L819.7,231.4ZM925.2,226.4L927.4,224.2L940.9,219.7L954.4,215.2L967.8,219.7L970.1,226.4L967.8,233.1L961.1,239.8L954.4,242.1L947.6,239.8L940.9,237.6L927.4,228.6ZM1100.2,226.4L1102.4,224.2L1115.9,219.7L1118.1,226.4L1122.6,239.8L1115.9,246.6L1102.4,242.1L1100.2,239.8ZM1342.5,239.8L1344.7,237.6L1358.2,238.5L1359.5,239.8L1364.9,253.3L1358.2,260.0L1347.0,253.3L1344.7,246.6ZM1052.4,253.3L1062.0,246.6L1075.5,246.6L1086.7,253.3L1075.5,260.0L1062.0,260.0ZM992.5,280.2L994.7,277.9L997.0,280.2L994.7,282.4ZM1091.7,280.2L1102.4,274.2L1108.4,280.2L1102.4,292.4ZM1338.0,280.2L1344.7,273.5L1351.5,280.2L1347.0,293.6L1344.7,295.9L1342.5,293.6ZM1320.0,320.5L1331.3,309.3L1344.7,318.3L1347.0,320.5L1344.7,327.2L1331.3,331.7ZM806.3,320.5L819.7,320.5L809.7,334.0L806.3,334.0ZM1347.4,334.0L1358.2,328.0L1368.9,334.0L1371.6,336.7L1377.6,347.4L1371.6,358.2L1369.4,360.9L1371.6,367.6L1373.9,374.3L1371.6,376.5L1358.2,379.1L1354.8,374.3L1353.4,360.9L1358.2,349.7L1360.9,347.4L1358.2,344.7ZM916.2,374.3L927.4,370.9L940.9,370.1L945.7,374.3L954.4,382.9L967.8,386.9L970.1,387.7L967.8,390.0L954.4,394.5L954.4,387.7L940.9,387.7L927.4,387.7L927.4,374.3ZM1001.5,387.7L1008.2,381.0L1014.9,387.7L1008.2,394.5ZM1316.7,387.7L1317.8,386.6L1318.9,387.7L1317.8,388.9ZM979.0,401.2L981.3,398.9L983.5,401.2L981.3,403.4L981.3,401.2Z" fill="#917660" stroke="#917660" stroke-width="0.5" stroke-linejoin="round" fill-rule="evenodd"/>
<path d="M763.7,199.5L765.9,199.1L767.0,199.5L777.1,213.0L779.4,215.2L786.1,213.0L792.8,212.3L806.3,212.5L819.7,209.1L832.2,213.0L833.2,213.7L846.7,218.6L860.1,218.6L873.6,219.7L887.1,221.6L900.5,219.7L911.7,213.0L914.0,212.3L927.4,209.6L940.9,208.2L954.4,211.6L967.8,210.7L974.5,213.0L981.3,215.2L994.7,215.2L1008.2,219.7L1014.9,226.4L1008.2,228.6L997.0,239.8L1008.2,246.6L1019.4,253.3L1008.2,264.5L1006.0,266.7L1008.2,269.0L1014.9,280.2L1019.4,293.6L1021.7,300.4L1028.4,293.6L1028.4,280.2L1028.4,266.7L1023.9,253.3L1035.1,246.6L1048.6,242.1L1049.6,239.8L1062.0,233.1L1075.5,228.6L1077.7,226.4L1082.2,213.0L1089.0,206.2L1102.4,206.2L1115.9,210.7L1129.3,206.2L1142.8,211.6L1145.1,213.0L1145.1,226.4L1142.8,228.6L1136.1,239.8L1129.3,251.1L1127.1,253.3L1129.3,260.0L1136.1,266.7L1142.8,269.0L1154.0,280.2L1156.3,282.4L1169.7,291.4L1172.0,293.6L1183.2,304.8L1196.7,304.8L1198.9,307.1L1196.7,309.3L1183.2,309.3L1169.7,313.8L1158.5,320.5L1156.3,322.8L1154.0,320.5L1154.0,307.1L1142.8,300.4L1129.3,300.4L1115.9,300.4L1102.4,294.6L1089.0,295.9L1082.2,293.6L1075.5,291.4L1073.3,293.6L1062.0,300.4L1050.8,307.1L1048.6,309.3L1035.1,313.8L1021.7,309.3L1014.9,307.1L1008.2,304.8L1001.5,307.1L994.7,309.3L981.3,313.8L967.8,313.8L954.4,309.3L952.1,307.1L954.4,304.8L967.8,300.4L981.3,295.9L983.5,293.6L981.3,291.4L967.8,286.9L954.4,282.4L947.6,280.2L940.9,277.9L934.2,266.7L927.4,260.0L916.2,266.7L927.4,277.9L934.2,280.2L927.4,282.4L914.0,282.4L900.5,291.4L887.1,291.4L873.6,286.9L860.1,286.9L857.9,280.2L860.1,273.5L873.6,269.0L875.8,266.7L873.6,265.6L860.1,264.5L846.7,264.5L839.9,266.7L833.2,273.5L819.7,276.8L806.3,279.0L806.3,266.7L806.3,266.7L806.3,266.7L819.7,270.1L824.6,266.7L823.6,253.3L819.7,249.5L813.0,239.8L806.3,233.1L792.8,233.1L792.8,226.4L779.4,226.4L765.9,226.4L765.9,213.0L752.4,213.0L739.0,213.0L739.0,208.2L752.4,206.2ZM819.7,212.2L816.9,213.0L819.7,215.1L822.2,213.0ZM833.2,220.7L828.1,226.4L833.2,232.7L846.7,231.2L860.1,233.1L871.3,226.4L860.1,223.8L846.7,223.8ZM873.6,251.1L871.3,253.3L873.6,254.4L875.8,253.3ZM927.4,224.2L925.2,226.4L927.4,228.6L940.9,237.6L947.6,239.8L954.4,242.1L961.1,239.8L967.8,233.1L970.1,226.4L967.8,219.7L954.4,215.2L940.9,219.7ZM981.3,252.3L980.3,253.3L981.3,254.3L994.7,254.3L995.7,253.3L994.7,252.7ZM1062.0,246.6L1052.4,253.3L1062.0,260.0L1075.5,260.0L1086.7,253.3L1075.5,246.6ZM1102.4,224.2L1100.2,226.4L1100.2,239.8L1102.4,242.1L1115.9,246.6L1122.6,239.8L1118.1,226.4L1115.9,219.7ZM1129.3,278.8L1127.1,280.2L1129.3,282.4L1131.6,280.2ZM819.7,223.8L814.7,226.4L819.7,231.4L821.7,226.4ZM994.7,277.9L992.5,280.2L994.7,282.4L997.0,280.2ZM1102.4,274.2L1091.7,280.2L1102.4,292.4L1108.4,280.2ZM1014.9,199.5L1021.7,195.3L1035.1,195.3L1048.6,198.2L1062.0,198.7L1064.3,199.5L1062.0,201.8L1048.6,201.8L1035.1,210.7L1021.7,206.2ZM1232.0,280.2L1237.0,275.1L1242.1,280.2L1237.0,285.2ZM819.7,293.6L819.7,286.9L833.2,281.3L842.5,293.6L833.2,300.4L824.0,307.1L819.7,311.6L819.7,307.1ZM833.2,292.5L831.0,293.6L833.2,294.2L834.0,293.6ZM871.3,307.1L873.6,304.8L875.8,307.1L873.6,315.5ZM1234.8,307.1L1237.0,304.8L1239.3,307.1L1243.8,320.5L1237.0,322.8L1234.8,320.5ZM832.0,320.5L833.2,319.4L846.7,313.8L857.9,320.5L860.1,322.8L873.6,322.0L887.1,321.6L889.3,320.5L900.5,313.8L911.7,320.5L912.6,334.0L914.0,335.1L915.1,334.0L927.4,324.7L936.7,334.0L940.1,347.4L940.9,348.5L954.4,354.1L965.6,347.4L961.1,334.0L967.8,327.2L981.3,327.2L994.7,327.2L1008.2,327.2L1019.4,334.0L1008.2,340.7L994.7,340.7L981.3,340.7L970.1,347.4L974.5,360.9L981.3,365.1L994.7,363.1L997.0,360.9L1008.2,354.1L1021.7,354.1L1035.1,354.1L1046.3,347.4L1048.6,345.2L1050.8,347.4L1062.0,354.1L1073.3,360.9L1073.3,374.3L1062.0,381.0L1050.8,387.7L1048.6,389.4L1035.1,398.9L1028.4,401.2L1021.7,403.4L1008.2,407.9L997.0,414.6L994.7,415.5L994.7,414.6L981.3,414.6L981.3,403.4L983.5,401.2L981.3,398.9L979.0,401.2L967.8,401.2L954.4,401.2L954.4,394.5L967.8,390.0L970.1,387.7L967.8,386.9L954.4,382.9L945.7,374.3L940.9,370.1L927.4,370.9L916.2,374.3L914.0,374.3L900.5,374.3L900.5,360.9L887.1,360.9L873.6,360.9L866.9,360.9L866.9,347.4L860.1,340.7L848.9,334.0L846.7,331.7L833.2,322.2ZM887.1,332.8L884.8,334.0L884.8,347.4L887.1,349.7L900.5,358.6L902.8,360.9L914.0,365.7L927.4,364.2L940.9,361.7L943.1,360.9L940.9,359.7L931.6,347.4L928.3,334.0L927.4,333.1L926.3,334.0L914.0,346.3L900.5,336.2L893.8,334.0ZM967.8,367.6L956.6,374.3L967.8,378.5L981.3,376.5L983.5,374.3L981.3,373.5ZM1008.2,381.0L1001.5,387.7L1008.2,394.5L1014.9,387.7ZM1131.6,347.4L1142.8,340.7L1156.3,340.7L1169.7,340.7L1183.2,340.7L1196.7,340.7L1210.1,340.7L1223.6,346.3L1224.9,347.4L1223.6,349.7L1210.1,352.2L1196.7,358.6L1189.9,360.9L1183.2,362.0L1170.9,374.3L1180.9,387.7L1169.7,391.1L1156.3,394.5L1149.5,387.7L1156.3,381.0L1167.5,374.3L1156.3,367.6L1142.8,363.1L1140.6,360.9ZM1077.7,360.9L1089.0,354.1L1100.2,360.9L1102.4,362.0L1104.7,360.9L1115.9,354.1L1122.6,360.9L1115.9,372.1L1114.8,374.3L1115.9,381.0L1116.6,387.7L1115.9,390.0L1109.2,387.7L1102.4,386.6L1089.0,381.0L1077.7,374.3ZM1102.4,373.2L1100.2,374.3L1102.4,375.4L1103.5,374.3ZM1276.6,387.7L1277.4,385.5L1290.9,381.4L1294.6,387.7L1290.9,396.0L1277.4,388.2ZM1082.2,414.6L1089.0,413.8L1102.4,403.4L1115.9,407.9L1129.3,413.1L1131.6,414.6L1129.3,416.9L1129.3,414.6L1115.9,414.6L1102.4,414.6L1089.0,414.6ZM1004.8,428.1L1008.2,421.4L1021.7,418.0L1028.4,428.1L1023.9,428.1L1021.7,424.7L1014.9,428.1L1008.2,428.1ZM1041.9,428.1L1048.6,419.7L1062.0,421.4L1075.5,416.9L1075.5,428.1L1062.0,428.1L1055.3,428.1L1048.6,425.3L1046.3,428.1ZM1160.5,428.1L1169.7,420.7L1172.9,428.1L1169.7,430.4ZM1169.7,427.4L1168.9,428.1L1169.7,428.3L1170.0,428.1Z" fill="#a8958f" stroke="#a8958f" stroke-width="0.5" stroke-linejoin="round" fill-rule="evenodd"/>
<path d="M816.9,213.0L819.7,212.2L822.2,213.0L819.7,215.1ZM828.1,226.4L833.2,220.7L846.7,223.8L860.1,223.8L871.3,226.4L860.1,233.1L846.7,231.2L833.2,232.7ZM792.8,239.8L792.8,233.1L806.3,233.1L813.0,239.8L819.7,249.5L823.6,253.3L824.6,266.7L819.7,270.1L806.3,266.7L806.3,266.7L806.3,253.3L806.3,239.8ZM871.3,253.3L873.6,251.1L875.8,253.3L873.6,254.4ZM980.3,253.3L981.3,252.3L994.7,252.7L995.7,253.3L994.7,254.3L981.3,254.3ZM1127.1,280.2L1129.3,278.8L1131.6,280.2L1129.3,282.4ZM831.0,293.6L833.2,292.5L834.0,293.6L833.2,294.2ZM884.8,334.0L887.1,332.8L893.8,334.0L900.5,336.2L914.0,346.3L926.3,334.0L927.4,333.1L928.3,334.0L931.6,347.4L940.9,359.7L943.1,360.9L940.9,361.7L927.4,364.2L914.0,365.7L902.8,360.9L900.5,358.6L887.1,349.7L884.8,347.4ZM956.6,374.3L967.8,367.6L981.3,373.5L983.5,374.3L981.3,376.5L967.8,378.5ZM1100.2,374.3L1102.4,373.2L1103.5,374.3L1102.4,375.4ZM1014.9,428.1L1021.7,424.7L1023.9,428.1L1021.7,428.1ZM1046.3,428.1L1048.6,425.3L1055.3,428.1L1048.6,428.1ZM1168.9,428.1L1169.7,427.4L1170.0,428.1L1169.7,428.3Z" fill="#ebe5e5" stroke="#ebe5e5" stroke-width="0.5" stroke-linejoin="round" fill-rule="evenodd"/>
<polygon points="813.8,212.0 821.3,212.5 837.9,224.9 832.9,227.4 826.2,223.3" fill="#ebe5e5"/>
</g>
<g id="grid-stars">
<polygon points="739.0,152.6 740.5,157.1 745.3,157.1 741.4,160.0 742.9,164.5 739.0,161.7 735.1,164.5 736.6,160.0 732.7,157.1 737.5,157.1" fill="none" stroke="#e80a0a" stroke-width="2.0" stroke-linejoin="round"/>
<polygon points="752.4,166.0 753.9,170.6 758.7,170.6 754.8,173.4 756.3,178.0 752.4,175.1 748.6,178.0 750.0,173.4 746.2,170.6 751.0,170.6" fill="none" stroke="#e80a0a" stroke-width="2.0" stroke-linejoin="round"/>
<polygon points="792.8,179.5 794.3,184.0 799.1,184.0 795.2,186.8 796.7,191.4 792.8,188.6 788.9,191.4 790.4,186.8 786.5,184.0 791.3,184.0" fill="none" stroke="#e80a0a" stroke-width="2.0" stroke-linejoin="round"/>
<polygon points="806.3,179.5 807.8,184.0 812.6,184.0 808.7,186.8 810.2,191.4 806.3,188.6 802.4,191.4 803.9,186.8 800.0,184.0 804.8,184.0" fill="none" stroke="#e80a0a" stroke-width="2.0" stroke-linejoin="round"/>
<polygon points="833.2,192.9 834.7,197.5 839.5,197.5 835.6,200.3 837.1,204.9 833.2,202.0 829.3,204.9 830.8,200.3 826.9,197.5 831.7,197.5" fill="none" stroke="#e80a0a" stroke-width="2.0" stroke-linejoin="round"/>
<polygon points="940.9,179.5 942.4,184.0 947.2,184.0 943.3,186.8 944.8,191.4 940.9,188.6 937.0,191.4 938.5,186.8 934.6,184.0 939.4,184.0" fill="none" stroke="#e80a0a" stroke-width="2.0" stroke-linejoin="round"/>
<polygon points="954.4,179.5 955.8,184.0 960.6,184.0 956.8,186.8 958.2,191.4 954.4,188.6 950.5,191.4 952.0,186.8 948.1,184.0 952.9,184.0" fill="none" stroke="#e80a0a" stroke-width="2.0" stroke-linejoin="round"/>
<polygon points="981.3,166.0 982.8,170.6 987.6,170.6 983.7,173.4 985.2,178.0 981.3,175.1 977.4,178.0 978.9,173.4 975.0,170.6 979.8,170.6" fill="none" stroke="#e80a0a" stroke-width="2.0" stroke-linejoin="round"/>
<polygon points="1008.2,152.6 1009.7,157.1 1014.5,157.1 1010.6,160.0 1012.1,164.5 1008.2,161.7 1004.3,164.5 1005.8,160.0 1001.9,157.1 1006.7,157.1" fill="none" stroke="#e80a0a" stroke-width="2.0" stroke-linejoin="round"/>
<polygon points="1048.6,139.1 1050.1,143.7 1054.9,143.7 1051.0,146.5 1052.5,151.1 1048.6,148.3 1044.7,151.1 1046.2,146.5 1042.3,143.7 1047.1,143.7" fill="none" stroke="#e80a0a" stroke-width="2.0" stroke-linejoin="round"/>
<polygon points="1062.0,139.1 1063.5,143.7 1068.3,143.7 1064.4,146.5 1065.9,151.1 1062.0,148.3 1058.2,151.1 1059.6,146.5 1055.8,143.7 1060.6,143.7" fill="none" stroke="#e80a0a" stroke-width="2.0" stroke-linejoin="round"/>
<polygon points="1089.0,125.7 1090.4,130.3 1095.2,130.3 1091.4,133.1 1092.8,137.6 1089.0,134.8 1085.1,137.6 1086.6,133.1 1082.7,130.3 1087.5,130.3" fill="none" stroke="#e80a0a" stroke-width="2.0" stroke-linejoin="round"/>
<polygon points="1102.4,139.1 1103.9,143.7 1108.7,143.7 1104.8,146.5 1106.3,151.1 1102.4,148.3 1098.5,151.1 1100.0,146.5 1096.1,143.7 1100.9,143.7" fill="none" stroke="#e80a0a" stroke-width="2.0" stroke-linejoin="round"/>
<polygon points="1210.1,112.2 1211.6,116.8 1216.4,116.8 1212.5,119.6 1214.0,124.2 1210.1,121.4 1206.2,124.2 1207.7,119.6 1203.8,116.8 1208.6,116.8" fill="none" stroke="#e80a0a" stroke-width="2.0" stroke-linejoin="round"/>
<polygon points="1223.6,112.2 1225.1,116.8 1229.8,116.8 1226.0,119.6 1227.5,124.2 1223.6,121.4 1219.7,124.2 1221.2,119.6 1217.3,116.8 1222.1,116.8" fill="none" stroke="#e80a0a" stroke-width="2.0" stroke-linejoin="round"/>
<polygon points="1237.0,112.2 1238.5,116.8 1243.3,116.8 1239.4,119.6 1240.9,124.2 1237.0,121.4 1233.2,124.2 1234.6,119.6 1230.8,116.8 1235.6,116.8" fill="none" stroke="#e80a0a" stroke-width="2.0" stroke-linejoin="round"/>
<polygon points="1290.9,112.2 1292.4,116.8 1297.2,116.8 1293.3,119.6 1294.8,124.2 1290.9,121.4 1287.0,124.2 1288.5,119.6 1284.6,116.8 1289.4,116.8" fill="none" stroke="#e80a0a" stroke-width="2.0" stroke-linejoin="round"/>
<polygon points="1183.2,125.7 1184.7,130.3 1189.5,130.3 1185.6,133.1 1187.1,137.6 1183.2,134.8 1179.3,137.6 1180.8,133.1 1176.9,130.3 1181.7,130.3" fill="none" stroke="#e80a0a" stroke-width="2.0" stroke-linejoin="round"/>
<polygon points="1223.6,125.7 1225.1,130.3 1229.8,130.3 1226.0,133.1 1227.5,137.6 1223.6,134.8 1219.7,137.6 1221.2,133.1 1217.3,130.3 1222.1,130.3" fill="none" stroke="#e80a0a" stroke-width="2.0" stroke-linejoin="round"/>
<polygon points="1142.8,139.1 1144.3,143.7 1149.1,143.7 1145.2,146.5 1146.7,151.1 1142.8,148.3 1138.9,151.1 1140.4,146.5 1136.5,143.7 1141.3,143.7" fill="none" stroke="#e80a0a" stroke-width="2.0" stroke-linejoin="round"/>
<polygon points="1156.3,139.1 1157.8,143.7 1162.5,143.7 1158.7,146.5 1160.1,151.1 1156.3,148.3 1152.4,151.1 1153.9,146.5 1150.0,143.7 1154.8,143.7" fill="none" stroke="#e80a0a" stroke-width="2.0" stroke-linejoin="round"/>
<polygon points="1169.7,139.1 1171.2,143.7 1176.0,143.7 1172.1,146.5 1173.6,151.1 1169.7,148.3 1165.8,151.1 1167.3,146.5 1163.5,143.7 1168.2,143.7" fill="none" stroke="#e80a0a" stroke-width="2.0" stroke-linejoin="round"/>
<polygon points="1183.2,139.1 1184.7,143.7 1189.5,143.7 1185.6,146.5 1187.1,151.1 1183.2,148.3 1179.3,151.1 1180.8,146.5 1176.9,143.7 1181.7,143.7" fill="none" stroke="#e80a0a" stroke-width="2.0" stroke-linejoin="round"/>
<polygon points="1196.7,139.1 1198.1,143.7 1202.9,143.7 1199.0,146.5 1200.5,151.1 1196.7,148.3 1192.8,151.1 1194.3,146.5 1190.4,143.7 1195.2,143.7" fill="none" stroke="#e80a0a" stroke-width="2.0" stroke-linejoin="round"/>
<polygon points="1129.3,152.6 1130.8,157.1 1135.6,157.1 1131.7,160.0 1133.2,164.5 1129.3,161.7 1125.5,164.5 1126.9,160.0 1123.1,157.1 1127.9,157.1" fill="none" stroke="#e80a0a" stroke-width="2.0" stroke-linejoin="round"/>
<polygon points="1156.3,152.6 1157.8,157.1 1162.5,157.1 1158.7,160.0 1160.1,164.5 1156.3,161.7 1152.4,164.5 1153.9,160.0 1150.0,157.1 1154.8,157.1" fill="none" stroke="#e80a0a" stroke-width="2.0" stroke-linejoin="round"/>
<polygon points="1169.7,152.6 1171.2,157.1 1176.0,157.1 1172.1,160.0 1173.6,164.5 1169.7,161.7 1165.8,164.5 1167.3,160.0 1163.5,157.1 1168.2,157.1" fill="none" stroke="#e80a0a" stroke-width="2.0" stroke-linejoin="round"/>
<polygon points="1183.2,152.6 1184.7,157.1 1189.5,157.1 1185.6,160.0 1187.1,164.5 1183.2,161.7 1179.3,164.5 1180.8,160.0 1176.9,157.1 1181.7,157.1" fill="none" stroke="#e80a0a" stroke-width="2.0" stroke-linejoin="round"/>
<polygon points="1196.7,152.6 1198.1,157.1 1202.9,157.1 1199.0,160.0 1200.5,164.5 1196.7,161.7 1192.8,164.5 1194.3,160.0 1190.4,157.1 1195.2,157.1" fill="none" stroke="#e80a0a" stroke-width="2.0" stroke-linejoin="round"/>
<polygon points="1210.1,152.6 1211.6,157.1 1216.4,157.1 1212.5,160.0 1214.0,164.5 1210.1,161.7 1206.2,164.5 1207.7,160.0 1203.8,157.1 1208.6,157.1" fill="none" stroke="#e80a0a" stroke-width="2.0" stroke-linejoin="round"/>
<polygon points="1223.6,152.6 1225.1,157.1 1229.8,157.1 1226.0,160.0 1227.5,164.5 1223.6,161.7 1219.7,164.5 1221.2,160.0 1217.3,157.1 1222.1,157.1" fill="none" stroke="#e80a0a" stroke-width="2.0" stroke-linejoin="round"/>
<polygon points="1169.7,166.0 1171.2,170.6 1176.0,170.6 1172.1,173.4 1173.6,178.0 1169.7,175.1 1165.8,178.0 1167.3,173.4 1163.5,170.6 1168.2,170.6" fill="none" stroke="#e80a0a" stroke-width="2.0" stroke-linejoin="round"/>
<polygon points="1183.2,166.0 1184.7,170.6 1189.5,170.6 1185.6,173.4 1187.1,178.0 1183.2,175.1 1179.3,178.0 1180.8,173.4 1176.9,170.6 1181.7,170.6" fill="none" stroke="#e80a0a" stroke-width="2.0" stroke-linejoin="round"/>
<polygon points="1196.7,166.0 1198.1,170.6 1202.9,170.6 1199.0,173.4 1200.5,178.0 1196.7,175.1 1192.8,178.0 1194.3,173.4 1190.4,170.6 1195.2,170.6" fill="none" stroke="#e80a0a" stroke-width="2.0" stroke-linejoin="round"/>
<polygon points="1210.1,166.0 1211.6,170.6 1216.4,170.6 1212.5,173.4 1214.0,178.0 1210.1,175.1 1206.2,178.0 1207.7,173.4 1203.8,170.6 1208.6,170.6" fill="none" stroke="#e80a0a" stroke-width="2.0" stroke-linejoin="round"/>
<polygon points="1223.6,166.0 1225.1,170.6 1229.8,170.6 1226.0,173.4 1227.5,178.0 1223.6,175.1 1219.7,178.0 1221.2,173.4 1217.3,170.6 1222.1,170.6" fill="none" stroke="#e80a0a" stroke-width="2.0" stroke-linejoin="round"/>
<polygon points="1183.2,179.5 1184.7,184.0 1189.5,184.0 1185.6,186.8 1187.1,191.4 1183.2,188.6 1179.3,191.4 1180.8,186.8 1176.9,184.0 1181.7,184.0" fill="none" stroke="#e80a0a" stroke-width="2.0" stroke-linejoin="round"/>
<polygon points="1196.7,179.5 1198.1,184.0 1202.9,184.0 1199.0,186.8 1200.5,191.4 1196.7,188.6 1192.8,191.4 1194.3,186.8 1190.4,184.0 1195.2,184.0" fill="none" stroke="#e80a0a" stroke-width="2.0" stroke-linejoin="round"/>
<polygon points="1210.1,179.5 1211.6,184.0 1216.4,184.0 1212.5,186.8 1214.0,191.4 1210.1,188.6 1206.2,191.4 1207.7,186.8 1203.8,184.0 1208.6,184.0" fill="none" stroke="#e80a0a" stroke-width="2.0" stroke-linejoin="round"/>
<polygon points="1223.6,179.5 1225.1,184.0 1229.8,184.0 1226.0,186.8 1227.5,191.4 1223.6,188.6 1219.7,191.4 1221.2,186.8 1217.3,184.0 1222.1,184.0" fill="none" stroke="#e80a0a" stroke-width="2.0" stroke-linejoin="round"/>
<polygon points="1237.0,179.5 1238.5,184.0 1243.3,184.0 1239.4,186.8 1240.9,191.4 1237.0,188.6 1233.2,191.4 1234.6,186.8 1230.8,184.0 1235.6,184.0" fill="none" stroke="#e80a0a" stroke-width="2.0" stroke-linejoin="round"/>
<polygon points="1250.5,179.5 1252.0,184.0 1256.8,184.0 1252.9,186.8 1254.4,191.4 1250.5,188.6 1246.6,191.4 1248.1,186.8 1244.2,184.0 1249.0,184.0" fill="none" stroke="#e80a0a" stroke-width="2.0" stroke-linejoin="round"/>
<polygon points="1264.0,179.5 1265.4,184.0 1270.2,184.0 1266.4,186.8 1267.8,191.4 1264.0,188.6 1260.1,191.4 1261.6,186.8 1257.7,184.0 1262.5,184.0" fill="none" stroke="#e80a0a" stroke-width="2.0" stroke-linejoin="round"/>
<polygon points="1290.9,179.5 1292.4,184.0 1297.2,184.0 1293.3,186.8 1294.8,191.4 1290.9,188.6 1287.0,191.4 1288.5,186.8 1284.6,184.0 1289.4,184.0" fill="none" stroke="#e80a0a" stroke-width="2.0" stroke-linejoin="round"/>
<polygon points="1438.9,166.0 1440.4,170.6 1445.2,170.6 1441.3,173.4 1442.8,178.0 1438.9,175.1 1435.1,178.0 1436.5,173.4 1432.7,170.6 1437.5,170.6" fill="none" stroke="#e80a0a" stroke-width="2.0" stroke-linejoin="round"/>
<polygon points="1412.0,179.5 1413.5,184.0 1418.3,184.0 1414.4,186.8 1415.9,191.4 1412.0,188.6 1408.1,191.4 1409.6,186.8 1405.7,184.0 1410.5,184.0" fill="none" stroke="#e80a0a" stroke-width="2.0" stroke-linejoin="round"/>
<polygon points="887.1,192.9 888.5,197.5 893.3,197.5 889.4,200.3 890.9,204.9 887.1,202.0 883.2,204.9 884.7,200.3 880.8,197.5 885.6,197.5" fill="none" stroke="#e80a0a" stroke-width="2.0" stroke-linejoin="round"/>
<polygon points="1210.1,192.9 1211.6,197.5 1216.4,197.5 1212.5,200.3 1214.0,204.9 1210.1,202.0 1206.2,204.9 1207.7,200.3 1203.8,197.5 1208.6,197.5" fill="none" stroke="#e80a0a" stroke-width="2.0" stroke-linejoin="round"/>
<polygon points="1223.6,192.9 1225.1,197.5 1229.8,197.5 1226.0,200.3 1227.5,204.9 1223.6,202.0 1219.7,204.9 1221.2,200.3 1217.3,197.5 1222.1,197.5" fill="none" stroke="#e80a0a" stroke-width="2.0" stroke-linejoin="round"/>
<polygon points="1237.0,192.9 1238.5,197.5 1243.3,197.5 1239.4,200.3 1240.9,204.9 1237.0,202.0 1233.2,204.9 1234.6,200.3 1230.8,197.5 1235.6,197.5" fill="none" stroke="#e80a0a" stroke-width="2.0" stroke-linejoin="round"/>
<polygon points="1250.5,192.9 1252.0,197.5 1256.8,197.5 1252.9,200.3 1254.4,204.9 1250.5,202.0 1246.6,204.9 1248.1,200.3 1244.2,197.5 1249.0,197.5" fill="none" stroke="#e80a0a" stroke-width="2.0" stroke-linejoin="round"/>
<polygon points="1264.0,192.9 1265.4,197.5 1270.2,197.5 1266.4,200.3 1267.8,204.9 1264.0,202.0 1260.1,204.9 1261.6,200.3 1257.7,197.5 1262.5,197.5" fill="none" stroke="#e80a0a" stroke-width="2.0" stroke-linejoin="round"/>
<polygon points="1277.4,192.9 1278.9,197.5 1283.7,197.5 1279.8,200.3 1281.3,204.9 1277.4,202.0 1273.5,204.9 1275.0,200.3 1271.1,197.5 1275.9,197.5" fill="none" stroke="#e80a0a" stroke-width="2.0" stroke-linejoin="round"/>
<polygon points="1290.9,192.9 1292.4,197.5 1297.2,197.5 1293.3,200.3 1294.8,204.9 1290.9,202.0 1287.0,204.9 1288.5,200.3 1284.6,197.5 1289.4,197.5" fill="none" stroke="#e80a0a" stroke-width="2.0" stroke-linejoin="round"/>
<polygon points="1304.3,192.9 1305.8,197.5 1310.6,197.5 1306.7,200.3 1308.2,204.9 1304.3,202.0 1300.5,204.9 1301.9,200.3 1298.1,197.5 1302.9,197.5" fill="none" stroke="#e80a0a" stroke-width="2.0" stroke-linejoin="round"/>
<polygon points="1412.0,192.9 1413.5,197.5 1418.3,197.5 1414.4,200.3 1415.9,204.9 1412.0,202.0 1408.1,204.9 1409.6,200.3 1405.7,197.5 1410.5,197.5" fill="none" stroke="#e80a0a" stroke-width="2.0" stroke-linejoin="round"/>
<polygon points="1425.5,192.9 1427.0,197.5 1431.8,197.5 1427.9,200.3 1429.4,204.9 1425.5,202.0 1421.6,204.9 1423.1,200.3 1419.2,197.5 1424.0,197.5" fill="none" stroke="#e80a0a" stroke-width="2.0" stroke-linejoin="round"/>
<polygon points="1438.9,192.9 1440.4,197.5 1445.2,197.5 1441.3,200.3 1442.8,204.9 1438.9,202.0 1435.1,204.9 1436.5,200.3 1432.7,197.5 1437.5,197.5" fill="none" stroke="#e80a0a" stroke-width="2.0" stroke-linejoin="round"/>
<polygon points="1385.1,206.4 1386.6,210.9 1391.4,210.9 1387.5,213.7 1389.0,218.3 1385.1,215.5 1381.2,218.3 1382.7,213.7 1378.8,210.9 1383.6,210.9" fill="none" stroke="#e80a0a" stroke-width="2.0" stroke-linejoin="round"/>
<polygon points="1398.6,206.4 1400.0,210.9 1404.8,210.9 1401.0,213.7 1402.4,218.3 1398.6,215.5 1394.7,218.3 1396.2,213.7 1392.3,210.9 1397.1,210.9" fill="none" stroke="#e80a0a" stroke-width="2.0" stroke-linejoin="round"/>
<polygon points="1412.0,206.4 1413.5,210.9 1418.3,210.9 1414.4,213.7 1415.9,218.3 1412.0,215.5 1408.1,218.3 1409.6,213.7 1405.7,210.9 1410.5,210.9" fill="none" stroke="#e80a0a" stroke-width="2.0" stroke-linejoin="round"/>
<polygon points="1425.5,206.4 1427.0,210.9 1431.8,210.9 1427.9,213.7 1429.4,218.3 1425.5,215.5 1421.6,218.3 1423.1,213.7 1419.2,210.9 1424.0,210.9" fill="none" stroke="#e80a0a" stroke-width="2.0" stroke-linejoin="round"/>
<polygon points="1438.9,206.4 1440.4,210.9 1445.2,210.9 1441.3,213.7 1442.8,218.3 1438.9,215.5 1435.1,218.3 1436.5,213.7 1432.7,210.9 1437.5,210.9" fill="none" stroke="#e80a0a" stroke-width="2.0" stroke-linejoin="round"/>
<polygon points="1425.5,219.8 1427.0,224.4 1431.8,224.4 1427.9,227.2 1429.4,231.7 1425.5,228.9 1421.6,231.7 1423.1,227.2 1419.2,224.4 1424.0,224.4" fill="none" stroke="#e80a0a" stroke-width="2.0" stroke-linejoin="round"/>
<polygon points="1465.9,260.1 1467.3,264.7 1472.1,264.7 1468.3,267.5 1469.7,272.1 1465.9,269.3 1462.0,272.1 1463.5,267.5 1459.6,264.7 1464.4,264.7" fill="none" stroke="#e80a0a" stroke-width="2.0" stroke-linejoin="round"/>
<polygon points="1479.3,273.6 1480.8,278.1 1485.6,278.1 1481.7,281.0 1483.2,285.5 1479.3,282.7 1475.4,285.5 1476.9,281.0 1473.1,278.1 1477.8,278.1" fill="none" stroke="#e80a0a" stroke-width="2.0" stroke-linejoin="round"/>
<polygon points="1465.9,327.4 1467.3,331.9 1472.1,331.9 1468.3,334.7 1469.7,339.3 1465.9,336.5 1462.0,339.3 1463.5,334.7 1459.6,331.9 1464.4,331.9" fill="none" stroke="#e80a0a" stroke-width="2.0" stroke-linejoin="round"/>
<polygon points="1250.5,381.1 1252.0,385.7 1256.8,385.7 1252.9,388.5 1254.4,393.1 1250.5,390.3 1246.6,393.1 1248.1,388.5 1244.2,385.7 1249.0,385.7" fill="none" stroke="#e80a0a" stroke-width="2.0" stroke-linejoin="round"/>
<polygon points="1223.6,394.6 1225.1,399.2 1229.8,399.2 1226.0,402.0 1227.5,406.5 1223.6,403.7 1219.7,406.5 1221.2,402.0 1217.3,399.2 1222.1,399.2" fill="none" stroke="#e80a0a" stroke-width="2.0" stroke-linejoin="round"/>
<polygon points="1264.0,394.6 1265.4,399.2 1270.2,399.2 1266.4,402.0 1267.8,406.5 1264.0,403.7 1260.1,406.5 1261.6,402.0 1257.7,399.2 1262.5,399.2" fill="none" stroke="#e80a0a" stroke-width="2.0" stroke-linejoin="round"/>
<polygon points="1210.1,408.0 1211.6,412.6 1216.4,412.6 1212.5,415.4 1214.0,420.0 1210.1,417.2 1206.2,420.0 1207.7,415.4 1203.8,412.6 1208.6,412.6" fill="none" stroke="#e80a0a" stroke-width="2.0" stroke-linejoin="round"/>
<polygon points="1250.5,408.0 1252.0,412.6 1256.8,412.6 1252.9,415.4 1254.4,420.0 1250.5,417.2 1246.6,420.0 1248.1,415.4 1244.2,412.6 1249.0,412.6" fill="none" stroke="#e80a0a" stroke-width="2.0" stroke-linejoin="round"/>
<polygon points="1264.0,408.0 1265.4,412.6 1270.2,412.6 1266.4,415.4 1267.8,420.0 1264.0,417.2 1260.1,420.0 1261.6,415.4 1257.7,412.6 1262.5,412.6" fill="none" stroke="#e80a0a" stroke-width="2.0" stroke-linejoin="round"/>
<polygon points="1290.9,408.0 1292.4,412.6 1297.2,412.6 1293.3,415.4 1294.8,420.0 1290.9,417.2 1287.0,420.0 1288.5,415.4 1284.6,412.6 1289.4,412.6" fill="none" stroke="#e80a0a" stroke-width="2.0" stroke-linejoin="round"/>
<polygon points="1290.9,421.5 1292.4,426.0 1297.2,426.0 1293.3,428.9 1294.8,433.4 1290.9,430.6 1287.0,433.4 1288.5,428.9 1284.6,426.0 1289.4,426.0" fill="none" stroke="#e80a0a" stroke-width="2.0" stroke-linejoin="round"/>
<polygon points="1425.5,408.0 1427.0,412.6 1431.8,412.6 1427.9,415.4 1429.4,420.0 1425.5,417.2 1421.6,420.0 1423.1,415.4 1419.2,412.6 1424.0,412.6" fill="none" stroke="#e80a0a" stroke-width="2.0" stroke-linejoin="round"/>
<polygon points="1385.1,421.5 1386.6,426.0 1391.4,426.0 1387.5,428.9 1389.0,433.4 1385.1,430.6 1381.2,433.4 1382.7,428.9 1378.8,426.0 1383.6,426.0" fill="none" stroke="#e80a0a" stroke-width="2.0" stroke-linejoin="round"/>
<polygon points="1398.6,421.5 1400.0,426.0 1404.8,426.0 1401.0,428.9 1402.4,433.4 1398.6,430.6 1394.7,433.4 1396.2,428.9 1392.3,426.0 1397.1,426.0" fill="none" stroke="#e80a0a" stroke-width="2.0" stroke-linejoin="round"/>
<polygon points="1412.0,421.5 1413.5,426.0 1418.3,426.0 1414.4,428.9 1415.9,433.4 1412.0,430.6 1408.1,433.4 1409.6,428.9 1405.7,426.0 1410.5,426.0" fill="none" stroke="#e80a0a" stroke-width="2.0" stroke-linejoin="round"/>
<polygon points="1169.7,434.9 1171.2,439.5 1176.0,439.5 1172.1,442.3 1173.6,446.9 1169.7,444.0 1165.8,446.9 1167.3,442.3 1163.5,439.5 1168.2,439.5" fill="none" stroke="#e80a0a" stroke-width="2.0" stroke-linejoin="round"/>
<polygon points="1196.7,434.9 1198.1,439.5 1202.9,439.5 1199.0,442.3 1200.5,446.9 1196.7,444.0 1192.8,446.9 1194.3,442.3 1190.4,439.5 1195.2,439.5" fill="none" stroke="#e80a0a" stroke-width="2.0" stroke-linejoin="round"/>
<polygon points="1344.7,434.9 1346.2,439.5 1351.0,439.5 1347.1,442.3 1348.6,446.9 1344.7,444.0 1340.8,446.9 1342.3,442.3 1338.4,439.5 1343.2,439.5" fill="none" stroke="#e80a0a" stroke-width="2.0" stroke-linejoin="round"/>
<polygon points="1358.2,434.9 1359.7,439.5 1364.5,439.5 1360.6,442.3 1362.1,446.9 1358.2,444.0 1354.3,446.9 1355.8,442.3 1351.9,439.5 1356.7,439.5" fill="none" stroke="#e80a0a" stroke-width="2.0" stroke-linejoin="round"/>
<polygon points="1385.1,434.9 1386.6,439.5 1391.4,439.5 1387.5,442.3 1389.0,446.9 1385.1,444.0 1381.2,446.9 1382.7,442.3 1378.8,439.5 1383.6,439.5" fill="none" stroke="#e80a0a" stroke-width="2.0" stroke-linejoin="round"/>
<polygon points="1371.6,448.4 1373.1,452.9 1377.9,452.9 1374.0,455.7 1375.5,460.3 1371.6,457.5 1367.8,460.3 1369.2,455.7 1365.4,452.9 1370.2,452.9" fill="none" stroke="#e80a0a" stroke-width="2.0" stroke-linejoin="round"/>
<polygon points="1344.7,461.8 1346.2,466.4 1351.0,466.4 1347.1,469.2 1348.6,473.8 1344.7,470.9 1340.8,473.8 1342.3,469.2 1338.4,466.4 1343.2,466.4" fill="none" stroke="#e80a0a" stroke-width="2.0" stroke-linejoin="round"/>
</g>
<polygon points="717.8,135.3 724.9,137.4 733.2,140.8 741.5,143.3 748.2,147.4 752.3,152.4 754.8,159.0 758.1,162.9 766.4,166.5 774.8,168.5 783.1,172.3 791.4,176.5 799.7,178.1 808.0,179.8 816.3,181.5 827.9,183.5 836.2,187.3 844.5,190.6 854.5,191.8 866.1,191.4 876.1,189.8 880,188.9 888.3,186.4 899.9,186.0 913.2,186.4 928.2,185.5 939.8,183.1 954.7,179.7 966.4,175.6 979.7,170.6 993.0,164.8 1006.2,159.0 1017.9,153.2 1026.2,151.5 1034.5,150.7 1042.8,147.3 1052.8,141.5 1061.1,135.7 1065,133.2 1073.3,132.4 1083.3,132.4 1093.2,130.7 1104.9,127.4 1116.5,124.9 1124.8,124.9 1131.4,126.2 1143.1,126.1 1154.7,125.4 1164.7,125.2 1173.0,123.3 1182.9,121.3 1192.9,119.9 1202.9,118.3 1212.8,117.8 1226.1,117.9 1236.1,116.6 1242.7,114.1 1247.7,112.5 1256.6,113.3 1268.2,113.3 1279.9,112.0 1291.5,111.3 1303.1,112.5 1314.8,115.0 1323.1,117.9 1331.4,120.3 1341.3,122.4 1349.6,126.6 1356.3,132.4 1362.9,137.9 1367.1,138.5 1367.9,135.7 1374.6,139.0 1382.9,144.9 1392.8,150.7 1402.8,155.6 1412.8,160.6 1421.1,165.3 1429.4,166.4 1438.1,168.6 1443.1,176.6 1448.1,179.1 1450.6,182.4 1451.4,185.7 1446.4,185.7 1439.8,184.9 1438.1,187.4 1440.6,193.2 1443.1,203.2 1444.8,213.1 1446.4,223.1 1448.1,231.4 1454.8,232.7 1463.1,235.5 1468.9,240.5 1470.5,248.0 1468.0,256.6 1473.0,261.6 1476.3,268.3 1483.0,274.9 1485.5,278.2 1484.7,286.5 1488.0,294.0 1490.5,299.8 1489.6,305.6 1483.0,304.0 1479.7,302.3 1478.8,307.3 1482.2,310.6 1479.7,316.4 1475.5,321.4 1478.0,326.4 1478.8,333.1 1473.0,340.5 1464.5,346.6 1456.1,355.0 1449.5,361.6 1441.2,365.7 1436.2,370.7 1431.2,375.7 1429.6,383.2 1429.6,393.2 1432.9,402.3 1428.7,409.8 1422.9,418.1 1419.6,426.4 1417.1,433.9 1409.6,437.2 1403.0,437.2 1398.8,433.9 1393.9,430.5 1389.7,433.0 1390.2,443.2 1386.9,452.3 1384.4,449.8 1380.2,448.2 1378.6,453.2 1372.8,458.1 1366.1,463.9 1357.8,468.9 1349.5,474.7 1344.5,481.4 1340.4,483.1 1336.2,479.7 1337.0,469.8 1337.5,458.1 1337.0,448.2 1335.4,439.9 1331.2,439.0 1327.1,442.4 1323.8,436.5 1322.1,428.2 1316.3,421.6 1310.5,416.6 1306.3,415.8 1303.8,421.6 1301.3,429.1 1297.2,433.2 1292.2,435.7 1286.4,432.4 1279.7,429.1 1273.1,424.9 1266.4,423.3 1259.8,422.4 1253.2,423.3 1247.3,426.6 1243.2,430.7 1233.2,434.9 1224.9,439.0 1218.3,440.7 1212.7,444.0 1207.7,449.8 1204.4,456.4 1196.1,458.9 1186.1,459.7 1176.1,458.1 1167.8,458.9 1159.5,460.1 1157.5,453.1 1158.7,446.4 1152.9,443.1 1146.2,442.3 1144.3,437.3 1143.8,431.5 1138.8,428.2 1134.6,431.5 1130.5,433.5 1124.7,429.8 1116.3,427.3 1108.0,425.2 1101.4,424.5 1096.4,423.5 1089.8,427.3 1084.0,433.2 1079.0,441.5 1079.8,447.3 1075.6,450.6 1071.5,447.3 1069.0,441.5 1072.3,433.2 1069.8,428.2 1064.9,427.3 1058.2,429.8 1049.9,431.5 1039.9,434.0 1031.0,433.8 1024.4,431.3 1016.1,428.0 1011.1,426.3 1007.8,429.7 1002.0,429.7 997.8,426.3 995.3,431.3 990.3,426.3 987.0,423.9 984.5,420.5 977.9,421.4 972.1,420.5 972.1,416.4 970.4,411.4 964.6,413.9 959.6,411.4 952.9,408.1 947.1,404.8 945.5,396.4 941.3,394.0 936.3,394.8 931.4,398.1 927.2,396.4 923.1,390.6 918.1,386.5 909.8,384.0 904.8,380.7 898.1,376.5 891.5,373.2 889.0,366.5 883.2,365.7 876.5,364.1 870.7,365.7 868.2,372.4 864.9,375.7 861.6,371.5 856.6,367.4 848.3,363.2 843.0,362.2 834.7,359.7 829.7,353.9 823.1,349.8 817.2,347.3 811.4,348.9 804.8,345.6 799.8,338.1 799.8,329.8 796.5,322.4 791.5,315.7 790.2,307.4 794.8,304.6 799.5,303.3 801.5,309.1 806.4,311.6 813.1,308.2 814.8,303.3 812.3,296.6 808.0,288.0 802.2,283.1 798.8,277.2 799.7,271.4 797.7,266.4 803.0,264.0 807.1,259.0 798.0,254.8 789.7,252.3 785.5,248.2 783.1,240.7 779.7,233.2 782.2,228.2 774.8,227.9 766.4,228.6 758.1,226.6 749.8,224.1 741.5,219.9 739.9,216.3 732.4,217.4 729.1,200 726.6,186.4 721.6,161.5" fill="none" stroke="#000" stroke-width="2.2" stroke-linejoin="round"/>
<g id="stations" fill="#000">
<circle cx="1191.4" cy="139.0" r="5.6"/>
<circle cx="1125.1" cy="152.3" r="5.6"/>
<circle cx="1300.8" cy="176.2" r="5.6"/>
<circle cx="1201.5" cy="190.0" r="5.6"/>
<circle cx="1378.3" cy="154.1" r="5.6"/>
<circle cx="1414.8" cy="175.5" r="5.6"/>
<circle cx="1418.5" cy="191.2" r="5.6"/>
<circle cx="1234.5" cy="201.7" r="5.6"/>
<circle cx="1275.5" cy="201.4" r="5.6"/>
<circle cx="1388.0" cy="205.4" r="5.6"/>
<circle cx="1409.8" cy="212.3" r="5.6"/>
<circle cx="1425.5" cy="225.9" r="5.6"/>
<circle cx="1449.3" cy="240.2" r="5.6"/>
<circle cx="1467.2" cy="303.2" r="5.6"/>
<circle cx="1431.4" cy="323.3" r="5.6"/>
<circle cx="1401.3" cy="347.8" r="5.6"/>
<circle cx="1434.6" cy="347.2" r="5.6"/>
<circle cx="1218.7" cy="383.2" r="5.6"/>
<circle cx="1257.4" cy="377.9" r="5.6"/>
<circle cx="1303.3" cy="410.6" r="5.6"/>
<circle cx="1347.2" cy="374.1" r="5.6"/>
<circle cx="1424.2" cy="372.9" r="5.6"/>
<circle cx="1411.6" cy="401.4" r="5.6"/>
<circle cx="1405.3" cy="429.5" r="5.6"/>
<circle cx="1352.2" cy="450.5" r="5.6"/>
</g>
<path d="M684.30,105.4H1506.25M684.30,508.75H1506.25M698.6,91.2V522.95M1506.25,91.2V522.95M698.60,91.2V105.4M698.60,508.75V522.95M833.21,91.2V105.4M833.21,508.75V522.95M967.82,91.2V105.4M967.82,508.75V522.95M1102.42,91.2V105.4M1102.42,508.75V522.95M1237.03,91.2V105.4M1237.03,508.75V522.95M1371.64,91.2V105.4M1371.64,508.75V522.95M1506.25,91.2V105.4M1506.25,508.75V522.95M684.30,508.75H698.6M684.30,374.30H698.6M684.30,239.85H698.6M684.30,105.40H698.6" fill="none" stroke="#000" stroke-width="2"/>
<path d="M725.52,98.2V105.4M725.52,508.75V515.95M779.37,98.2V105.4M779.37,508.75V515.95M887.05,98.2V105.4M887.05,508.75V515.95M940.89,98.2V105.4M940.89,508.75V515.95M994.74,98.2V105.4M994.74,508.75V515.95M1048.58,98.2V105.4M1048.58,508.75V515.95M1156.27,98.2V105.4M1156.27,508.75V515.95M1210.11,98.2V105.4M1210.11,508.75V515.95M1263.95,98.2V105.4M1263.95,508.75V515.95M1317.80,98.2V105.4M1317.80,508.75V515.95M1425.49,98.2V105.4M1425.49,508.75V515.95M1479.33,98.2V105.4M1479.33,508.75V515.95M691.40,481.86H698.6M691.40,454.97H698.6M691.40,428.08H698.6M691.40,401.19H698.6M691.40,347.41H698.6M691.40,320.52H698.6M691.40,293.63H698.6M691.40,266.74H698.6M691.40,212.96H698.6M691.40,186.07H698.6M691.40,159.18H698.6M691.40,132.29H698.6" fill="none" stroke="#000" stroke-width="1.4"/>
<g font-family='"Liberation Serif", serif' font-size="35.8" fill="#000">
<text transform="translate(698.60,572.60) scale(1.0,1)" stroke="#000" text-anchor="middle">75<tspan font-size="22" dy="-15.8">o</tspan><tspan dy="15.8">E</tspan></text>
<text transform="translate(833.21,572.60) scale(1.0,1)" stroke="#000" text-anchor="middle">80<tspan font-size="22" dy="-15.8">o</tspan><tspan dy="15.8">E</tspan></text>
<text transform="translate(967.82,572.60) scale(1.0,1)" stroke="#000" text-anchor="middle">85<tspan font-size="22" dy="-15.8">o</tspan><tspan dy="15.8">E</tspan></text>
<text transform="translate(1102.42,572.60) scale(1.0,1)" stroke="#000" text-anchor="middle">90<tspan font-size="22" dy="-15.8">o</tspan><tspan dy="15.8">E</tspan></text>
<text transform="translate(1237.03,572.60) scale(1.0,1)" stroke="#000" text-anchor="middle">95<tspan font-size="22" dy="-15.8">o</tspan><tspan dy="15.8">E</tspan></text>
<text transform="translate(1371.64,572.60) scale(1.0,1)" stroke="#000" text-anchor="middle">100<tspan font-size="22" dy="-15.8">o</tspan><tspan dy="15.8">E</tspan></text>
<text transform="translate(1506.25,572.60) scale(1.0,1)" stroke="#000" text-anchor="middle">105<tspan font-size="22" dy="-15.8">o</tspan><tspan dy="15.8">E</tspan></text>
<text transform="translate(661.30,522.25) scale(1.0,1)" stroke="#000" text-anchor="end">25<tspan font-size="22" dy="-15.8">o</tspan><tspan dy="15.8">N</tspan></text>
<text transform="translate(661.30,387.80) scale(1.0,1)" stroke="#000" text-anchor="end">30<tspan font-size="22" dy="-15.8">o</tspan><tspan dy="15.8">N</tspan></text>
<text transform="translate(661.30,253.35) scale(1.0,1)" stroke="#000" text-anchor="end">35<tspan font-size="22" dy="-15.8">o</tspan><tspan dy="15.8">N</tspan></text>
<text transform="translate(661.30,118.90) scale(1.0,1)" stroke="#000" text-anchor="end">40<tspan font-size="22" dy="-15.8">o</tspan><tspan dy="15.8">N</tspan></text>
</g>
<g font-family='"Liberation Serif", serif'><text transform="translate(1102.40,60.00) scale(1.0,1)" stroke="#000" font-size="32" text-anchor="middle">(b)</text></g>
<rect x="1544.5" y="181.00" width="41.0" height="40.56" fill="#ebe5e5" stroke="#000" stroke-width="1"/>
<rect x="1544.5" y="221.56" width="41.0" height="40.56" fill="#a8958f" stroke="#000" stroke-width="1"/>
<rect x="1544.5" y="262.12" width="41.0" height="40.56" fill="#917660" stroke="#000" stroke-width="1"/>
<rect x="1544.5" y="302.69" width="41.0" height="40.56" fill="#d5c785" stroke="#000" stroke-width="1"/>
<rect x="1544.5" y="343.25" width="41.0" height="40.56" fill="#ccf18d" stroke="#000" stroke-width="1"/>
<rect x="1544.5" y="383.81" width="41.0" height="40.56" fill="#4fdd7a" stroke="#000" stroke-width="1"/>
<rect x="1544.5" y="424.38" width="41.0" height="40.56" fill="#0ba6b5" stroke="#000" stroke-width="1"/>
<rect x="1544.5" y="464.94" width="41.0" height="40.56" fill="#2160c9" stroke="#000" stroke-width="1"/>
<g font-family='"Liberation Serif", serif' font-size="32" fill="#000">
<text transform="translate(1591.80,232.86) scale(0.97,1)" stroke="#000" font-size="33.5">5.5</text>
<text transform="translate(1591.80,273.43) scale(0.97,1)" stroke="#000" font-size="33.5">5.0</text>
<text transform="translate(1591.80,313.99) scale(0.97,1)" stroke="#000" font-size="33.5">4.5</text>
<text transform="translate(1591.80,354.55) scale(0.97,1)" stroke="#000" font-size="33.5">4.0</text>
<text transform="translate(1591.80,395.11) scale(0.97,1)" stroke="#000" font-size="33.5">3.5</text>
<text transform="translate(1591.80,435.68) scale(0.97,1)" stroke="#000" font-size="33.5">3.0</text>
<text transform="translate(1591.80,476.24) scale(0.97,1)" stroke="#000" font-size="33.5">2.5</text>
<text transform="translate(1525.50,130.80) scale(1.0,1)" stroke="#000" font-size="33">Elevation</text>
<text transform="translate(1558.00,163.40) scale(1.0,1)" stroke="#000" font-size="33">(km)</text>
</g>
<polygon points="725.3,443.5 726.8,448.3 731.9,448.3 727.8,451.2 729.4,456.0 725.3,453.0 721.2,456.0 722.8,451.2 718.7,448.3 723.8,448.3" fill="none" stroke="#e80a0a" stroke-width="2.5" stroke-linejoin="round"/>
<circle cx="725.3" cy="482" r="6.3" fill="#000"/>
<g font-family='"Liberation Serif", serif' font-size="33">
<text transform="translate(748.50,460.50) scale(1.0,1)" fill="#ee0505" stroke="#ee0505">Grid</text>
<text transform="translate(746.00,493.00) scale(1.0,1)" stroke="#000">Station</text>
</g>
</g>
</svg></body></html>
